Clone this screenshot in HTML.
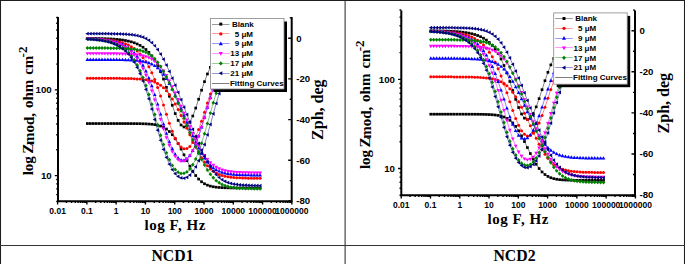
<!DOCTYPE html>
<html><head><meta charset="utf-8"><style>
html,body{margin:0;padding:0;background:#fff;}
body{width:685px;height:264px;overflow:hidden;position:relative;}
svg{position:absolute;left:0;top:0;}
.tl{font-family:"Liberation Sans",sans-serif;font-weight:bold;font-size:9.7px;}
.tr{font-family:"Liberation Sans",sans-serif;font-weight:bold;font-size:9.6px;}
.tx{font-family:"Liberation Sans",sans-serif;font-weight:bold;font-size:8.5px;}
.lg{font-family:"Liberation Sans",sans-serif;font-weight:bold;font-size:8px;}
.ti{font-family:"Liberation Serif",serif;font-weight:bold;font-size:15px;}
.tz{font-family:"Liberation Serif",serif;font-weight:bold;font-size:16px;}
.tf{font-family:"Liberation Serif",serif;font-weight:bold;font-size:15px;letter-spacing:0.55px;}
.nc{font-family:"Liberation Serif",serif;font-weight:bold;font-size:15.8px;}
</style></head><body>
<svg width="685" height="264" viewBox="0 0 685 264">
<defs><clipPath id="p1c"><rect x="58.0" y="14" width="233.7" height="187.2"/></clipPath><clipPath id="p2c"><rect x="401.3" y="7.4" width="233.7" height="187.79999999999998"/></clipPath></defs>
<rect width="685" height="264" fill="#fff"/>
<g clip-path="url(#p1c)"><polyline points="87.38,123.55 90.31,123.55 93.24,123.55 96.16,123.55 99.09,123.55 102.02,123.55 104.95,123.55 107.88,123.55 110.80,123.56 113.73,123.56 116.66,123.56 119.59,123.56 122.52,123.57 125.44,123.57 128.37,123.58 131.30,123.60 134.23,123.62 137.16,123.65 140.08,123.69 143.01,123.76 145.94,123.87 148.87,124.03 151.80,124.27 154.72,124.64 157.65,125.21 160.58,126.05 163.51,127.28 166.44,129.05 169.36,131.50 172.29,134.73 175.22,138.80 178.15,143.63 181.08,149.06 184.00,154.82 186.93,160.64 189.86,166.20 192.79,171.25 195.72,175.58 198.64,179.09 201.57,181.78 204.50,183.76 207.43,185.15 210.36,186.11 213.28,186.75 216.21,187.17 219.14,187.45 222.07,187.64 225.00,187.76 227.92,187.84 230.85,187.89 233.78,187.92 236.71,187.95 239.64,187.96 242.56,187.97 245.49,187.98 248.42,187.99 251.35,187.99 254.28,187.99 257.20,187.99 260.13,188.00" fill="none" stroke="#000000" stroke-width="0.5"/><rect x="86.03" y="122.20" width="2.70" height="2.70" fill="#000000"/><rect x="88.96" y="122.20" width="2.70" height="2.70" fill="#000000"/><rect x="91.89" y="122.20" width="2.70" height="2.70" fill="#000000"/><rect x="94.81" y="122.20" width="2.70" height="2.70" fill="#000000"/><rect x="97.74" y="122.20" width="2.70" height="2.70" fill="#000000"/><rect x="100.67" y="122.20" width="2.70" height="2.70" fill="#000000"/><rect x="103.60" y="122.20" width="2.70" height="2.70" fill="#000000"/><rect x="106.53" y="122.20" width="2.70" height="2.70" fill="#000000"/><rect x="109.45" y="122.21" width="2.70" height="2.70" fill="#000000"/><rect x="112.38" y="122.21" width="2.70" height="2.70" fill="#000000"/><rect x="115.31" y="122.21" width="2.70" height="2.70" fill="#000000"/><rect x="118.24" y="122.21" width="2.70" height="2.70" fill="#000000"/><rect x="121.17" y="122.22" width="2.70" height="2.70" fill="#000000"/><rect x="124.09" y="122.22" width="2.70" height="2.70" fill="#000000"/><rect x="127.02" y="122.23" width="2.70" height="2.70" fill="#000000"/><rect x="129.95" y="122.25" width="2.70" height="2.70" fill="#000000"/><rect x="132.88" y="122.27" width="2.70" height="2.70" fill="#000000"/><rect x="135.81" y="122.30" width="2.70" height="2.70" fill="#000000"/><rect x="138.73" y="122.34" width="2.70" height="2.70" fill="#000000"/><rect x="141.66" y="122.41" width="2.70" height="2.70" fill="#000000"/><rect x="144.59" y="122.52" width="2.70" height="2.70" fill="#000000"/><rect x="147.52" y="122.68" width="2.70" height="2.70" fill="#000000"/><rect x="150.45" y="122.92" width="2.70" height="2.70" fill="#000000"/><rect x="153.37" y="123.29" width="2.70" height="2.70" fill="#000000"/><rect x="156.30" y="123.86" width="2.70" height="2.70" fill="#000000"/><rect x="159.23" y="124.70" width="2.70" height="2.70" fill="#000000"/><rect x="162.16" y="125.93" width="2.70" height="2.70" fill="#000000"/><rect x="165.09" y="127.70" width="2.70" height="2.70" fill="#000000"/><rect x="168.01" y="130.15" width="2.70" height="2.70" fill="#000000"/><rect x="170.94" y="133.38" width="2.70" height="2.70" fill="#000000"/><rect x="173.87" y="137.45" width="2.70" height="2.70" fill="#000000"/><rect x="176.80" y="142.28" width="2.70" height="2.70" fill="#000000"/><rect x="179.73" y="147.71" width="2.70" height="2.70" fill="#000000"/><rect x="182.65" y="153.47" width="2.70" height="2.70" fill="#000000"/><rect x="185.58" y="159.29" width="2.70" height="2.70" fill="#000000"/><rect x="188.51" y="164.85" width="2.70" height="2.70" fill="#000000"/><rect x="191.44" y="169.90" width="2.70" height="2.70" fill="#000000"/><rect x="194.37" y="174.23" width="2.70" height="2.70" fill="#000000"/><rect x="197.29" y="177.74" width="2.70" height="2.70" fill="#000000"/><rect x="200.22" y="180.43" width="2.70" height="2.70" fill="#000000"/><rect x="203.15" y="182.41" width="2.70" height="2.70" fill="#000000"/><rect x="206.08" y="183.80" width="2.70" height="2.70" fill="#000000"/><rect x="209.01" y="184.76" width="2.70" height="2.70" fill="#000000"/><rect x="211.93" y="185.40" width="2.70" height="2.70" fill="#000000"/><rect x="214.86" y="185.82" width="2.70" height="2.70" fill="#000000"/><rect x="217.79" y="186.10" width="2.70" height="2.70" fill="#000000"/><rect x="220.72" y="186.29" width="2.70" height="2.70" fill="#000000"/><rect x="223.65" y="186.41" width="2.70" height="2.70" fill="#000000"/><rect x="226.57" y="186.49" width="2.70" height="2.70" fill="#000000"/><rect x="229.50" y="186.54" width="2.70" height="2.70" fill="#000000"/><rect x="232.43" y="186.57" width="2.70" height="2.70" fill="#000000"/><rect x="235.36" y="186.60" width="2.70" height="2.70" fill="#000000"/><rect x="238.29" y="186.61" width="2.70" height="2.70" fill="#000000"/><rect x="241.21" y="186.62" width="2.70" height="2.70" fill="#000000"/><rect x="244.14" y="186.63" width="2.70" height="2.70" fill="#000000"/><rect x="247.07" y="186.64" width="2.70" height="2.70" fill="#000000"/><rect x="250.00" y="186.64" width="2.70" height="2.70" fill="#000000"/><rect x="252.93" y="186.64" width="2.70" height="2.70" fill="#000000"/><rect x="255.85" y="186.64" width="2.70" height="2.70" fill="#000000"/><rect x="258.78" y="186.65" width="2.70" height="2.70" fill="#000000"/><polyline points="87.38,38.32 90.31,38.35 93.24,38.39 96.16,38.44 99.09,38.50 102.02,38.58 104.95,38.67 107.88,38.79 110.80,38.94 113.73,39.13 116.66,39.37 119.59,39.67 122.52,40.05 125.44,40.52 128.37,41.11 131.30,41.85 134.23,42.78 137.16,43.95 140.08,45.41 143.01,47.23 145.94,49.51 148.87,52.35 151.80,55.86 154.72,60.18 157.65,65.43 160.58,71.71 163.51,79.06 166.44,87.34 169.36,96.25 172.29,105.25 175.22,113.57 178.15,120.41 181.08,125.04 184.00,126.96 186.93,125.98 189.86,122.19 192.79,116.00 195.72,108.07 198.64,99.21 201.57,90.20 204.50,81.66 207.43,73.99 210.36,67.36 213.28,61.78 216.21,57.17 219.14,53.41 222.07,50.37 225.00,47.92 227.92,45.96 230.85,44.39 233.78,43.13 236.71,42.13 239.64,41.33 242.56,40.70 245.49,40.19 248.42,39.78 251.35,39.46 254.28,39.20 257.20,39.00 260.13,38.84" fill="none" stroke="#000000" stroke-width="0.5"/><rect x="86.03" y="36.97" width="2.70" height="2.70" fill="#000000"/><rect x="88.96" y="37.00" width="2.70" height="2.70" fill="#000000"/><rect x="91.89" y="37.04" width="2.70" height="2.70" fill="#000000"/><rect x="94.81" y="37.09" width="2.70" height="2.70" fill="#000000"/><rect x="97.74" y="37.15" width="2.70" height="2.70" fill="#000000"/><rect x="100.67" y="37.23" width="2.70" height="2.70" fill="#000000"/><rect x="103.60" y="37.32" width="2.70" height="2.70" fill="#000000"/><rect x="106.53" y="37.44" width="2.70" height="2.70" fill="#000000"/><rect x="109.45" y="37.59" width="2.70" height="2.70" fill="#000000"/><rect x="112.38" y="37.78" width="2.70" height="2.70" fill="#000000"/><rect x="115.31" y="38.02" width="2.70" height="2.70" fill="#000000"/><rect x="118.24" y="38.32" width="2.70" height="2.70" fill="#000000"/><rect x="121.17" y="38.70" width="2.70" height="2.70" fill="#000000"/><rect x="124.09" y="39.17" width="2.70" height="2.70" fill="#000000"/><rect x="127.02" y="39.76" width="2.70" height="2.70" fill="#000000"/><rect x="129.95" y="40.50" width="2.70" height="2.70" fill="#000000"/><rect x="132.88" y="41.43" width="2.70" height="2.70" fill="#000000"/><rect x="135.81" y="42.60" width="2.70" height="2.70" fill="#000000"/><rect x="138.73" y="44.06" width="2.70" height="2.70" fill="#000000"/><rect x="141.66" y="45.88" width="2.70" height="2.70" fill="#000000"/><rect x="144.59" y="48.16" width="2.70" height="2.70" fill="#000000"/><rect x="147.52" y="51.00" width="2.70" height="2.70" fill="#000000"/><rect x="150.45" y="54.51" width="2.70" height="2.70" fill="#000000"/><rect x="153.37" y="58.83" width="2.70" height="2.70" fill="#000000"/><rect x="156.30" y="64.08" width="2.70" height="2.70" fill="#000000"/><rect x="159.23" y="70.36" width="2.70" height="2.70" fill="#000000"/><rect x="162.16" y="77.71" width="2.70" height="2.70" fill="#000000"/><rect x="165.09" y="85.99" width="2.70" height="2.70" fill="#000000"/><rect x="168.01" y="94.90" width="2.70" height="2.70" fill="#000000"/><rect x="170.94" y="103.90" width="2.70" height="2.70" fill="#000000"/><rect x="173.87" y="112.22" width="2.70" height="2.70" fill="#000000"/><rect x="176.80" y="119.06" width="2.70" height="2.70" fill="#000000"/><rect x="179.73" y="123.69" width="2.70" height="2.70" fill="#000000"/><rect x="182.65" y="125.61" width="2.70" height="2.70" fill="#000000"/><rect x="185.58" y="124.63" width="2.70" height="2.70" fill="#000000"/><rect x="188.51" y="120.84" width="2.70" height="2.70" fill="#000000"/><rect x="191.44" y="114.65" width="2.70" height="2.70" fill="#000000"/><rect x="194.37" y="106.72" width="2.70" height="2.70" fill="#000000"/><rect x="197.29" y="97.86" width="2.70" height="2.70" fill="#000000"/><rect x="200.22" y="88.85" width="2.70" height="2.70" fill="#000000"/><rect x="203.15" y="80.31" width="2.70" height="2.70" fill="#000000"/><rect x="206.08" y="72.64" width="2.70" height="2.70" fill="#000000"/><rect x="209.01" y="66.01" width="2.70" height="2.70" fill="#000000"/><rect x="211.93" y="60.43" width="2.70" height="2.70" fill="#000000"/><rect x="214.86" y="55.82" width="2.70" height="2.70" fill="#000000"/><rect x="217.79" y="52.06" width="2.70" height="2.70" fill="#000000"/><rect x="220.72" y="49.02" width="2.70" height="2.70" fill="#000000"/><rect x="223.65" y="46.57" width="2.70" height="2.70" fill="#000000"/><rect x="226.57" y="44.61" width="2.70" height="2.70" fill="#000000"/><rect x="229.50" y="43.04" width="2.70" height="2.70" fill="#000000"/><rect x="232.43" y="41.78" width="2.70" height="2.70" fill="#000000"/><rect x="235.36" y="40.78" width="2.70" height="2.70" fill="#000000"/><rect x="238.29" y="39.98" width="2.70" height="2.70" fill="#000000"/><rect x="241.21" y="39.35" width="2.70" height="2.70" fill="#000000"/><rect x="244.14" y="38.84" width="2.70" height="2.70" fill="#000000"/><rect x="247.07" y="38.43" width="2.70" height="2.70" fill="#000000"/><rect x="250.00" y="38.11" width="2.70" height="2.70" fill="#000000"/><rect x="252.93" y="37.85" width="2.70" height="2.70" fill="#000000"/><rect x="255.85" y="37.65" width="2.70" height="2.70" fill="#000000"/><rect x="258.78" y="37.49" width="2.70" height="2.70" fill="#000000"/><polyline points="87.38,78.21 90.31,78.22 93.24,78.22 96.16,78.23 99.09,78.23 102.02,78.24 104.95,78.25 107.88,78.26 110.80,78.28 113.73,78.30 116.66,78.32 119.59,78.35 122.52,78.40 125.44,78.45 128.37,78.52 131.30,78.61 134.23,78.73 137.16,78.89 140.08,79.10 143.01,79.39 145.94,79.79 148.87,80.34 151.80,81.09 154.72,82.11 157.65,83.49 160.58,85.34 163.51,87.74 166.44,90.79 169.36,94.53 172.29,98.96 175.22,104.02 178.15,109.62 181.08,115.62 184.00,121.90 186.93,128.32 189.86,134.73 192.79,141.01 195.72,147.01 198.64,152.61 201.57,157.67 204.50,162.09 207.43,165.83 210.36,168.88 213.28,171.28 216.21,173.12 219.14,174.50 222.07,175.52 225.00,176.26 227.92,176.81 230.85,177.21 233.78,177.50 236.71,177.71 239.64,177.87 242.56,177.99 245.49,178.08 248.42,178.15 251.35,178.21 254.28,178.25 257.20,178.28 260.13,178.30" fill="none" stroke="#ff0000" stroke-width="0.5"/><circle cx="87.38" cy="78.21" r="1.50" fill="#ff0000"/><circle cx="90.31" cy="78.22" r="1.50" fill="#ff0000"/><circle cx="93.24" cy="78.22" r="1.50" fill="#ff0000"/><circle cx="96.16" cy="78.23" r="1.50" fill="#ff0000"/><circle cx="99.09" cy="78.23" r="1.50" fill="#ff0000"/><circle cx="102.02" cy="78.24" r="1.50" fill="#ff0000"/><circle cx="104.95" cy="78.25" r="1.50" fill="#ff0000"/><circle cx="107.88" cy="78.26" r="1.50" fill="#ff0000"/><circle cx="110.80" cy="78.28" r="1.50" fill="#ff0000"/><circle cx="113.73" cy="78.30" r="1.50" fill="#ff0000"/><circle cx="116.66" cy="78.32" r="1.50" fill="#ff0000"/><circle cx="119.59" cy="78.35" r="1.50" fill="#ff0000"/><circle cx="122.52" cy="78.40" r="1.50" fill="#ff0000"/><circle cx="125.44" cy="78.45" r="1.50" fill="#ff0000"/><circle cx="128.37" cy="78.52" r="1.50" fill="#ff0000"/><circle cx="131.30" cy="78.61" r="1.50" fill="#ff0000"/><circle cx="134.23" cy="78.73" r="1.50" fill="#ff0000"/><circle cx="137.16" cy="78.89" r="1.50" fill="#ff0000"/><circle cx="140.08" cy="79.10" r="1.50" fill="#ff0000"/><circle cx="143.01" cy="79.39" r="1.50" fill="#ff0000"/><circle cx="145.94" cy="79.79" r="1.50" fill="#ff0000"/><circle cx="148.87" cy="80.34" r="1.50" fill="#ff0000"/><circle cx="151.80" cy="81.09" r="1.50" fill="#ff0000"/><circle cx="154.72" cy="82.11" r="1.50" fill="#ff0000"/><circle cx="157.65" cy="83.49" r="1.50" fill="#ff0000"/><circle cx="160.58" cy="85.34" r="1.50" fill="#ff0000"/><circle cx="163.51" cy="87.74" r="1.50" fill="#ff0000"/><circle cx="166.44" cy="90.79" r="1.50" fill="#ff0000"/><circle cx="169.36" cy="94.53" r="1.50" fill="#ff0000"/><circle cx="172.29" cy="98.96" r="1.50" fill="#ff0000"/><circle cx="175.22" cy="104.02" r="1.50" fill="#ff0000"/><circle cx="178.15" cy="109.62" r="1.50" fill="#ff0000"/><circle cx="181.08" cy="115.62" r="1.50" fill="#ff0000"/><circle cx="184.00" cy="121.90" r="1.50" fill="#ff0000"/><circle cx="186.93" cy="128.32" r="1.50" fill="#ff0000"/><circle cx="189.86" cy="134.73" r="1.50" fill="#ff0000"/><circle cx="192.79" cy="141.01" r="1.50" fill="#ff0000"/><circle cx="195.72" cy="147.01" r="1.50" fill="#ff0000"/><circle cx="198.64" cy="152.61" r="1.50" fill="#ff0000"/><circle cx="201.57" cy="157.67" r="1.50" fill="#ff0000"/><circle cx="204.50" cy="162.09" r="1.50" fill="#ff0000"/><circle cx="207.43" cy="165.83" r="1.50" fill="#ff0000"/><circle cx="210.36" cy="168.88" r="1.50" fill="#ff0000"/><circle cx="213.28" cy="171.28" r="1.50" fill="#ff0000"/><circle cx="216.21" cy="173.12" r="1.50" fill="#ff0000"/><circle cx="219.14" cy="174.50" r="1.50" fill="#ff0000"/><circle cx="222.07" cy="175.52" r="1.50" fill="#ff0000"/><circle cx="225.00" cy="176.26" r="1.50" fill="#ff0000"/><circle cx="227.92" cy="176.81" r="1.50" fill="#ff0000"/><circle cx="230.85" cy="177.21" r="1.50" fill="#ff0000"/><circle cx="233.78" cy="177.50" r="1.50" fill="#ff0000"/><circle cx="236.71" cy="177.71" r="1.50" fill="#ff0000"/><circle cx="239.64" cy="177.87" r="1.50" fill="#ff0000"/><circle cx="242.56" cy="177.99" r="1.50" fill="#ff0000"/><circle cx="245.49" cy="178.08" r="1.50" fill="#ff0000"/><circle cx="248.42" cy="178.15" r="1.50" fill="#ff0000"/><circle cx="251.35" cy="178.21" r="1.50" fill="#ff0000"/><circle cx="254.28" cy="178.25" r="1.50" fill="#ff0000"/><circle cx="257.20" cy="178.28" r="1.50" fill="#ff0000"/><circle cx="260.13" cy="178.30" r="1.50" fill="#ff0000"/><polyline points="87.38,38.56 90.31,38.65 93.24,38.75 96.16,38.88 99.09,39.04 102.02,39.24 104.95,39.49 107.88,39.79 110.80,40.16 113.73,40.62 116.66,41.18 119.59,41.88 122.52,42.73 125.44,43.79 128.37,45.08 131.30,46.67 134.23,48.62 137.16,51.01 140.08,53.91 143.01,57.43 145.94,61.67 148.87,66.73 151.80,72.68 154.72,79.59 157.65,87.40 160.58,95.99 163.51,105.09 166.44,114.32 169.36,123.22 172.29,131.31 175.22,138.18 178.15,143.50 181.08,147.06 184.00,148.76 186.93,148.53 189.86,146.39 192.79,142.40 195.72,136.69 198.64,129.50 201.57,121.18 204.50,112.16 207.43,102.92 210.36,93.91 213.28,85.48 216.21,77.88 219.14,71.20 222.07,65.46 225.00,60.60 227.92,56.54 230.85,53.18 233.78,50.40 236.71,48.13 239.64,46.27 242.56,44.75 245.49,43.52 248.42,42.51 251.35,41.70 254.28,41.04 257.20,40.50 260.13,40.06" fill="none" stroke="#ff0000" stroke-width="0.5"/><circle cx="87.38" cy="38.56" r="1.50" fill="#ff0000"/><circle cx="90.31" cy="38.65" r="1.50" fill="#ff0000"/><circle cx="93.24" cy="38.75" r="1.50" fill="#ff0000"/><circle cx="96.16" cy="38.88" r="1.50" fill="#ff0000"/><circle cx="99.09" cy="39.04" r="1.50" fill="#ff0000"/><circle cx="102.02" cy="39.24" r="1.50" fill="#ff0000"/><circle cx="104.95" cy="39.49" r="1.50" fill="#ff0000"/><circle cx="107.88" cy="39.79" r="1.50" fill="#ff0000"/><circle cx="110.80" cy="40.16" r="1.50" fill="#ff0000"/><circle cx="113.73" cy="40.62" r="1.50" fill="#ff0000"/><circle cx="116.66" cy="41.18" r="1.50" fill="#ff0000"/><circle cx="119.59" cy="41.88" r="1.50" fill="#ff0000"/><circle cx="122.52" cy="42.73" r="1.50" fill="#ff0000"/><circle cx="125.44" cy="43.79" r="1.50" fill="#ff0000"/><circle cx="128.37" cy="45.08" r="1.50" fill="#ff0000"/><circle cx="131.30" cy="46.67" r="1.50" fill="#ff0000"/><circle cx="134.23" cy="48.62" r="1.50" fill="#ff0000"/><circle cx="137.16" cy="51.01" r="1.50" fill="#ff0000"/><circle cx="140.08" cy="53.91" r="1.50" fill="#ff0000"/><circle cx="143.01" cy="57.43" r="1.50" fill="#ff0000"/><circle cx="145.94" cy="61.67" r="1.50" fill="#ff0000"/><circle cx="148.87" cy="66.73" r="1.50" fill="#ff0000"/><circle cx="151.80" cy="72.68" r="1.50" fill="#ff0000"/><circle cx="154.72" cy="79.59" r="1.50" fill="#ff0000"/><circle cx="157.65" cy="87.40" r="1.50" fill="#ff0000"/><circle cx="160.58" cy="95.99" r="1.50" fill="#ff0000"/><circle cx="163.51" cy="105.09" r="1.50" fill="#ff0000"/><circle cx="166.44" cy="114.32" r="1.50" fill="#ff0000"/><circle cx="169.36" cy="123.22" r="1.50" fill="#ff0000"/><circle cx="172.29" cy="131.31" r="1.50" fill="#ff0000"/><circle cx="175.22" cy="138.18" r="1.50" fill="#ff0000"/><circle cx="178.15" cy="143.50" r="1.50" fill="#ff0000"/><circle cx="181.08" cy="147.06" r="1.50" fill="#ff0000"/><circle cx="184.00" cy="148.76" r="1.50" fill="#ff0000"/><circle cx="186.93" cy="148.53" r="1.50" fill="#ff0000"/><circle cx="189.86" cy="146.39" r="1.50" fill="#ff0000"/><circle cx="192.79" cy="142.40" r="1.50" fill="#ff0000"/><circle cx="195.72" cy="136.69" r="1.50" fill="#ff0000"/><circle cx="198.64" cy="129.50" r="1.50" fill="#ff0000"/><circle cx="201.57" cy="121.18" r="1.50" fill="#ff0000"/><circle cx="204.50" cy="112.16" r="1.50" fill="#ff0000"/><circle cx="207.43" cy="102.92" r="1.50" fill="#ff0000"/><circle cx="210.36" cy="93.91" r="1.50" fill="#ff0000"/><circle cx="213.28" cy="85.48" r="1.50" fill="#ff0000"/><circle cx="216.21" cy="77.88" r="1.50" fill="#ff0000"/><circle cx="219.14" cy="71.20" r="1.50" fill="#ff0000"/><circle cx="222.07" cy="65.46" r="1.50" fill="#ff0000"/><circle cx="225.00" cy="60.60" r="1.50" fill="#ff0000"/><circle cx="227.92" cy="56.54" r="1.50" fill="#ff0000"/><circle cx="230.85" cy="53.18" r="1.50" fill="#ff0000"/><circle cx="233.78" cy="50.40" r="1.50" fill="#ff0000"/><circle cx="236.71" cy="48.13" r="1.50" fill="#ff0000"/><circle cx="239.64" cy="46.27" r="1.50" fill="#ff0000"/><circle cx="242.56" cy="44.75" r="1.50" fill="#ff0000"/><circle cx="245.49" cy="43.52" r="1.50" fill="#ff0000"/><circle cx="248.42" cy="42.51" r="1.50" fill="#ff0000"/><circle cx="251.35" cy="41.70" r="1.50" fill="#ff0000"/><circle cx="254.28" cy="41.04" r="1.50" fill="#ff0000"/><circle cx="257.20" cy="40.50" r="1.50" fill="#ff0000"/><circle cx="260.13" cy="40.06" r="1.50" fill="#ff0000"/><polyline points="87.38,59.52 90.31,59.52 93.24,59.53 96.16,59.53 99.09,59.54 102.02,59.55 104.95,59.56 107.88,59.58 110.80,59.60 113.73,59.63 116.66,59.66 119.59,59.70 122.52,59.76 125.44,59.83 128.37,59.93 131.30,60.07 134.23,60.25 137.16,60.50 140.08,60.84 143.01,61.31 145.94,61.95 148.87,62.85 151.80,64.08 154.72,65.74 157.65,67.94 160.58,70.79 163.51,74.35 166.44,78.64 169.36,83.63 172.29,89.24 175.22,95.36 178.15,101.85 181.08,108.59 184.00,115.48 186.93,122.39 189.86,129.22 192.79,135.87 195.72,142.20 198.64,148.10 201.57,153.44 204.50,158.12 207.43,162.08 210.36,165.30 213.28,167.84 216.21,169.78 219.14,171.23 222.07,172.30 225.00,173.07 227.92,173.63 230.85,174.03 233.78,174.33 236.71,174.54 239.64,174.70 242.56,174.81 245.49,174.90 248.42,174.97 251.35,175.02 254.28,175.06 257.20,175.09 260.13,175.11" fill="none" stroke="#0000ff" stroke-width="0.5"/><path d="M87.38,57.48L89.25,60.88L85.51,60.88Z" fill="#0000ff"/><path d="M90.31,57.48L92.18,60.88L88.44,60.88Z" fill="#0000ff"/><path d="M93.24,57.49L95.11,60.89L91.37,60.89Z" fill="#0000ff"/><path d="M96.16,57.49L98.03,60.89L94.29,60.89Z" fill="#0000ff"/><path d="M99.09,57.50L100.96,60.90L97.22,60.90Z" fill="#0000ff"/><path d="M102.02,57.51L103.89,60.91L100.15,60.91Z" fill="#0000ff"/><path d="M104.95,57.52L106.82,60.92L103.08,60.92Z" fill="#0000ff"/><path d="M107.88,57.54L109.75,60.94L106.01,60.94Z" fill="#0000ff"/><path d="M110.80,57.56L112.67,60.96L108.93,60.96Z" fill="#0000ff"/><path d="M113.73,57.59L115.60,60.99L111.86,60.99Z" fill="#0000ff"/><path d="M116.66,57.62L118.53,61.02L114.79,61.02Z" fill="#0000ff"/><path d="M119.59,57.66L121.46,61.06L117.72,61.06Z" fill="#0000ff"/><path d="M122.52,57.72L124.39,61.12L120.65,61.12Z" fill="#0000ff"/><path d="M125.44,57.79L127.31,61.19L123.57,61.19Z" fill="#0000ff"/><path d="M128.37,57.89L130.24,61.29L126.50,61.29Z" fill="#0000ff"/><path d="M131.30,58.03L133.17,61.43L129.43,61.43Z" fill="#0000ff"/><path d="M134.23,58.21L136.10,61.61L132.36,61.61Z" fill="#0000ff"/><path d="M137.16,58.46L139.03,61.86L135.29,61.86Z" fill="#0000ff"/><path d="M140.08,58.80L141.95,62.20L138.21,62.20Z" fill="#0000ff"/><path d="M143.01,59.27L144.88,62.67L141.14,62.67Z" fill="#0000ff"/><path d="M145.94,59.91L147.81,63.31L144.07,63.31Z" fill="#0000ff"/><path d="M148.87,60.81L150.74,64.21L147.00,64.21Z" fill="#0000ff"/><path d="M151.80,62.04L153.67,65.44L149.93,65.44Z" fill="#0000ff"/><path d="M154.72,63.70L156.59,67.10L152.85,67.10Z" fill="#0000ff"/><path d="M157.65,65.90L159.52,69.30L155.78,69.30Z" fill="#0000ff"/><path d="M160.58,68.75L162.45,72.15L158.71,72.15Z" fill="#0000ff"/><path d="M163.51,72.31L165.38,75.71L161.64,75.71Z" fill="#0000ff"/><path d="M166.44,76.60L168.31,80.00L164.57,80.00Z" fill="#0000ff"/><path d="M169.36,81.59L171.23,84.99L167.49,84.99Z" fill="#0000ff"/><path d="M172.29,87.20L174.16,90.60L170.42,90.60Z" fill="#0000ff"/><path d="M175.22,93.32L177.09,96.72L173.35,96.72Z" fill="#0000ff"/><path d="M178.15,99.81L180.02,103.21L176.28,103.21Z" fill="#0000ff"/><path d="M181.08,106.55L182.95,109.95L179.21,109.95Z" fill="#0000ff"/><path d="M184.00,113.44L185.87,116.84L182.13,116.84Z" fill="#0000ff"/><path d="M186.93,120.35L188.80,123.75L185.06,123.75Z" fill="#0000ff"/><path d="M189.86,127.18L191.73,130.58L187.99,130.58Z" fill="#0000ff"/><path d="M192.79,133.83L194.66,137.23L190.92,137.23Z" fill="#0000ff"/><path d="M195.72,140.16L197.59,143.56L193.85,143.56Z" fill="#0000ff"/><path d="M198.64,146.06L200.51,149.46L196.77,149.46Z" fill="#0000ff"/><path d="M201.57,151.40L203.44,154.80L199.70,154.80Z" fill="#0000ff"/><path d="M204.50,156.08L206.37,159.48L202.63,159.48Z" fill="#0000ff"/><path d="M207.43,160.04L209.30,163.44L205.56,163.44Z" fill="#0000ff"/><path d="M210.36,163.26L212.23,166.66L208.49,166.66Z" fill="#0000ff"/><path d="M213.28,165.80L215.15,169.20L211.41,169.20Z" fill="#0000ff"/><path d="M216.21,167.74L218.08,171.14L214.34,171.14Z" fill="#0000ff"/><path d="M219.14,169.19L221.01,172.59L217.27,172.59Z" fill="#0000ff"/><path d="M222.07,170.26L223.94,173.66L220.20,173.66Z" fill="#0000ff"/><path d="M225.00,171.03L226.87,174.43L223.13,174.43Z" fill="#0000ff"/><path d="M227.92,171.59L229.79,174.99L226.05,174.99Z" fill="#0000ff"/><path d="M230.85,171.99L232.72,175.39L228.98,175.39Z" fill="#0000ff"/><path d="M233.78,172.29L235.65,175.69L231.91,175.69Z" fill="#0000ff"/><path d="M236.71,172.50L238.58,175.90L234.84,175.90Z" fill="#0000ff"/><path d="M239.64,172.66L241.51,176.06L237.77,176.06Z" fill="#0000ff"/><path d="M242.56,172.77L244.43,176.17L240.69,176.17Z" fill="#0000ff"/><path d="M245.49,172.86L247.36,176.26L243.62,176.26Z" fill="#0000ff"/><path d="M248.42,172.93L250.29,176.33L246.55,176.33Z" fill="#0000ff"/><path d="M251.35,172.98L253.22,176.38L249.48,176.38Z" fill="#0000ff"/><path d="M254.28,173.02L256.15,176.42L252.41,176.42Z" fill="#0000ff"/><path d="M257.20,173.05L259.07,176.45L255.33,176.45Z" fill="#0000ff"/><path d="M260.13,173.07L262.00,176.47L258.26,176.47Z" fill="#0000ff"/><polyline points="87.38,38.70 90.31,38.82 93.24,38.96 96.16,39.14 99.09,39.37 102.02,39.65 104.95,39.99 107.88,40.41 110.80,40.93 113.73,41.58 116.66,42.38 119.59,43.36 122.52,44.58 125.44,46.07 128.37,47.91 131.30,50.17 134.23,52.94 137.16,56.31 140.08,60.39 143.01,65.30 145.94,71.15 148.87,78.00 151.80,85.88 154.72,94.70 157.65,104.25 160.58,114.19 163.51,124.08 166.44,133.42 169.36,141.78 172.29,148.82 175.22,154.29 178.15,158.08 181.08,160.12 184.00,160.40 186.93,158.90 189.86,155.66 192.79,150.70 195.72,144.13 198.64,136.15 201.57,127.07 204.50,117.30 207.43,107.33 210.36,97.61 213.28,88.54 216.21,80.35 219.14,73.18 222.07,67.02 225.00,61.83 227.92,57.50 230.85,53.92 233.78,50.98 236.71,48.57 239.64,46.61 242.56,45.01 245.49,43.72 248.42,42.66 251.35,41.81 254.28,41.12 257.20,40.56 260.13,40.11" fill="none" stroke="#0000ff" stroke-width="0.5"/><path d="M87.38,36.66L89.25,40.06L85.51,40.06Z" fill="#0000ff"/><path d="M90.31,36.78L92.18,40.18L88.44,40.18Z" fill="#0000ff"/><path d="M93.24,36.92L95.11,40.32L91.37,40.32Z" fill="#0000ff"/><path d="M96.16,37.10L98.03,40.50L94.29,40.50Z" fill="#0000ff"/><path d="M99.09,37.33L100.96,40.73L97.22,40.73Z" fill="#0000ff"/><path d="M102.02,37.61L103.89,41.01L100.15,41.01Z" fill="#0000ff"/><path d="M104.95,37.95L106.82,41.35L103.08,41.35Z" fill="#0000ff"/><path d="M107.88,38.37L109.75,41.77L106.01,41.77Z" fill="#0000ff"/><path d="M110.80,38.89L112.67,42.29L108.93,42.29Z" fill="#0000ff"/><path d="M113.73,39.54L115.60,42.94L111.86,42.94Z" fill="#0000ff"/><path d="M116.66,40.34L118.53,43.74L114.79,43.74Z" fill="#0000ff"/><path d="M119.59,41.32L121.46,44.72L117.72,44.72Z" fill="#0000ff"/><path d="M122.52,42.54L124.39,45.94L120.65,45.94Z" fill="#0000ff"/><path d="M125.44,44.03L127.31,47.43L123.57,47.43Z" fill="#0000ff"/><path d="M128.37,45.87L130.24,49.27L126.50,49.27Z" fill="#0000ff"/><path d="M131.30,48.13L133.17,51.53L129.43,51.53Z" fill="#0000ff"/><path d="M134.23,50.90L136.10,54.30L132.36,54.30Z" fill="#0000ff"/><path d="M137.16,54.27L139.03,57.67L135.29,57.67Z" fill="#0000ff"/><path d="M140.08,58.35L141.95,61.75L138.21,61.75Z" fill="#0000ff"/><path d="M143.01,63.26L144.88,66.66L141.14,66.66Z" fill="#0000ff"/><path d="M145.94,69.11L147.81,72.51L144.07,72.51Z" fill="#0000ff"/><path d="M148.87,75.96L150.74,79.36L147.00,79.36Z" fill="#0000ff"/><path d="M151.80,83.84L153.67,87.24L149.93,87.24Z" fill="#0000ff"/><path d="M154.72,92.66L156.59,96.06L152.85,96.06Z" fill="#0000ff"/><path d="M157.65,102.21L159.52,105.61L155.78,105.61Z" fill="#0000ff"/><path d="M160.58,112.15L162.45,115.55L158.71,115.55Z" fill="#0000ff"/><path d="M163.51,122.04L165.38,125.44L161.64,125.44Z" fill="#0000ff"/><path d="M166.44,131.38L168.31,134.78L164.57,134.78Z" fill="#0000ff"/><path d="M169.36,139.74L171.23,143.14L167.49,143.14Z" fill="#0000ff"/><path d="M172.29,146.78L174.16,150.18L170.42,150.18Z" fill="#0000ff"/><path d="M175.22,152.25L177.09,155.65L173.35,155.65Z" fill="#0000ff"/><path d="M178.15,156.04L180.02,159.44L176.28,159.44Z" fill="#0000ff"/><path d="M181.08,158.08L182.95,161.48L179.21,161.48Z" fill="#0000ff"/><path d="M184.00,158.36L185.87,161.76L182.13,161.76Z" fill="#0000ff"/><path d="M186.93,156.86L188.80,160.26L185.06,160.26Z" fill="#0000ff"/><path d="M189.86,153.62L191.73,157.02L187.99,157.02Z" fill="#0000ff"/><path d="M192.79,148.66L194.66,152.06L190.92,152.06Z" fill="#0000ff"/><path d="M195.72,142.09L197.59,145.49L193.85,145.49Z" fill="#0000ff"/><path d="M198.64,134.11L200.51,137.51L196.77,137.51Z" fill="#0000ff"/><path d="M201.57,125.03L203.44,128.43L199.70,128.43Z" fill="#0000ff"/><path d="M204.50,115.26L206.37,118.66L202.63,118.66Z" fill="#0000ff"/><path d="M207.43,105.29L209.30,108.69L205.56,108.69Z" fill="#0000ff"/><path d="M210.36,95.57L212.23,98.97L208.49,98.97Z" fill="#0000ff"/><path d="M213.28,86.50L215.15,89.90L211.41,89.90Z" fill="#0000ff"/><path d="M216.21,78.31L218.08,81.71L214.34,81.71Z" fill="#0000ff"/><path d="M219.14,71.14L221.01,74.54L217.27,74.54Z" fill="#0000ff"/><path d="M222.07,64.98L223.94,68.38L220.20,68.38Z" fill="#0000ff"/><path d="M225.00,59.79L226.87,63.19L223.13,63.19Z" fill="#0000ff"/><path d="M227.92,55.46L229.79,58.86L226.05,58.86Z" fill="#0000ff"/><path d="M230.85,51.88L232.72,55.28L228.98,55.28Z" fill="#0000ff"/><path d="M233.78,48.94L235.65,52.34L231.91,52.34Z" fill="#0000ff"/><path d="M236.71,46.53L238.58,49.93L234.84,49.93Z" fill="#0000ff"/><path d="M239.64,44.57L241.51,47.97L237.77,47.97Z" fill="#0000ff"/><path d="M242.56,42.97L244.43,46.37L240.69,46.37Z" fill="#0000ff"/><path d="M245.49,41.68L247.36,45.08L243.62,45.08Z" fill="#0000ff"/><path d="M248.42,40.62L250.29,44.02L246.55,44.02Z" fill="#0000ff"/><path d="M251.35,39.77L253.22,43.17L249.48,43.17Z" fill="#0000ff"/><path d="M254.28,39.08L256.15,42.48L252.41,42.48Z" fill="#0000ff"/><path d="M257.20,38.52L259.07,41.92L255.33,41.92Z" fill="#0000ff"/><path d="M260.13,38.07L262.00,41.47L258.26,41.47Z" fill="#0000ff"/><polyline points="87.38,53.52 90.31,53.53 93.24,53.53 96.16,53.54 99.09,53.55 102.02,53.57 104.95,53.58 107.88,53.60 110.80,53.63 113.73,53.66 116.66,53.71 119.59,53.76 122.52,53.84 125.44,53.94 128.37,54.06 131.30,54.24 134.23,54.47 137.16,54.78 140.08,55.21 143.01,55.80 145.94,56.60 148.87,57.70 151.80,59.18 154.72,61.14 157.65,63.70 160.58,66.91 163.51,70.84 166.44,75.48 169.36,80.75 172.29,86.57 175.22,92.83 178.15,99.40 181.08,106.17 184.00,113.05 186.93,119.92 189.86,126.71 192.79,133.29 195.72,139.57 198.64,145.42 201.57,150.73 204.50,155.40 207.43,159.37 210.36,162.63 213.28,165.22 216.21,167.22 219.14,168.73 222.07,169.84 225.00,170.66 227.92,171.26 230.85,171.70 233.78,172.02 236.71,172.25 239.64,172.43 242.56,172.56 245.49,172.66 248.42,172.73 251.35,172.79 254.28,172.83 257.20,172.87 260.13,172.89" fill="none" stroke="#ff00ff" stroke-width="0.5"/><path d="M87.38,55.56L89.25,52.16L85.51,52.16Z" fill="#ff00ff"/><path d="M90.31,55.57L92.18,52.17L88.44,52.17Z" fill="#ff00ff"/><path d="M93.24,55.57L95.11,52.17L91.37,52.17Z" fill="#ff00ff"/><path d="M96.16,55.58L98.03,52.18L94.29,52.18Z" fill="#ff00ff"/><path d="M99.09,55.59L100.96,52.19L97.22,52.19Z" fill="#ff00ff"/><path d="M102.02,55.61L103.89,52.21L100.15,52.21Z" fill="#ff00ff"/><path d="M104.95,55.62L106.82,52.22L103.08,52.22Z" fill="#ff00ff"/><path d="M107.88,55.64L109.75,52.24L106.01,52.24Z" fill="#ff00ff"/><path d="M110.80,55.67L112.67,52.27L108.93,52.27Z" fill="#ff00ff"/><path d="M113.73,55.70L115.60,52.30L111.86,52.30Z" fill="#ff00ff"/><path d="M116.66,55.75L118.53,52.35L114.79,52.35Z" fill="#ff00ff"/><path d="M119.59,55.80L121.46,52.40L117.72,52.40Z" fill="#ff00ff"/><path d="M122.52,55.88L124.39,52.48L120.65,52.48Z" fill="#ff00ff"/><path d="M125.44,55.98L127.31,52.58L123.57,52.58Z" fill="#ff00ff"/><path d="M128.37,56.10L130.24,52.70L126.50,52.70Z" fill="#ff00ff"/><path d="M131.30,56.28L133.17,52.88L129.43,52.88Z" fill="#ff00ff"/><path d="M134.23,56.51L136.10,53.11L132.36,53.11Z" fill="#ff00ff"/><path d="M137.16,56.82L139.03,53.42L135.29,53.42Z" fill="#ff00ff"/><path d="M140.08,57.25L141.95,53.85L138.21,53.85Z" fill="#ff00ff"/><path d="M143.01,57.84L144.88,54.44L141.14,54.44Z" fill="#ff00ff"/><path d="M145.94,58.64L147.81,55.24L144.07,55.24Z" fill="#ff00ff"/><path d="M148.87,59.74L150.74,56.34L147.00,56.34Z" fill="#ff00ff"/><path d="M151.80,61.22L153.67,57.82L149.93,57.82Z" fill="#ff00ff"/><path d="M154.72,63.18L156.59,59.78L152.85,59.78Z" fill="#ff00ff"/><path d="M157.65,65.74L159.52,62.34L155.78,62.34Z" fill="#ff00ff"/><path d="M160.58,68.95L162.45,65.55L158.71,65.55Z" fill="#ff00ff"/><path d="M163.51,72.88L165.38,69.48L161.64,69.48Z" fill="#ff00ff"/><path d="M166.44,77.52L168.31,74.12L164.57,74.12Z" fill="#ff00ff"/><path d="M169.36,82.79L171.23,79.39L167.49,79.39Z" fill="#ff00ff"/><path d="M172.29,88.61L174.16,85.21L170.42,85.21Z" fill="#ff00ff"/><path d="M175.22,94.87L177.09,91.47L173.35,91.47Z" fill="#ff00ff"/><path d="M178.15,101.44L180.02,98.04L176.28,98.04Z" fill="#ff00ff"/><path d="M181.08,108.21L182.95,104.81L179.21,104.81Z" fill="#ff00ff"/><path d="M184.00,115.09L185.87,111.69L182.13,111.69Z" fill="#ff00ff"/><path d="M186.93,121.96L188.80,118.56L185.06,118.56Z" fill="#ff00ff"/><path d="M189.86,128.75L191.73,125.35L187.99,125.35Z" fill="#ff00ff"/><path d="M192.79,135.33L194.66,131.93L190.92,131.93Z" fill="#ff00ff"/><path d="M195.72,141.61L197.59,138.21L193.85,138.21Z" fill="#ff00ff"/><path d="M198.64,147.46L200.51,144.06L196.77,144.06Z" fill="#ff00ff"/><path d="M201.57,152.77L203.44,149.37L199.70,149.37Z" fill="#ff00ff"/><path d="M204.50,157.44L206.37,154.04L202.63,154.04Z" fill="#ff00ff"/><path d="M207.43,161.41L209.30,158.01L205.56,158.01Z" fill="#ff00ff"/><path d="M210.36,164.67L212.23,161.27L208.49,161.27Z" fill="#ff00ff"/><path d="M213.28,167.26L215.15,163.86L211.41,163.86Z" fill="#ff00ff"/><path d="M216.21,169.26L218.08,165.86L214.34,165.86Z" fill="#ff00ff"/><path d="M219.14,170.77L221.01,167.37L217.27,167.37Z" fill="#ff00ff"/><path d="M222.07,171.88L223.94,168.48L220.20,168.48Z" fill="#ff00ff"/><path d="M225.00,172.70L226.87,169.30L223.13,169.30Z" fill="#ff00ff"/><path d="M227.92,173.30L229.79,169.90L226.05,169.90Z" fill="#ff00ff"/><path d="M230.85,173.74L232.72,170.34L228.98,170.34Z" fill="#ff00ff"/><path d="M233.78,174.06L235.65,170.66L231.91,170.66Z" fill="#ff00ff"/><path d="M236.71,174.29L238.58,170.89L234.84,170.89Z" fill="#ff00ff"/><path d="M239.64,174.47L241.51,171.07L237.77,171.07Z" fill="#ff00ff"/><path d="M242.56,174.60L244.43,171.20L240.69,171.20Z" fill="#ff00ff"/><path d="M245.49,174.70L247.36,171.30L243.62,171.30Z" fill="#ff00ff"/><path d="M248.42,174.77L250.29,171.37L246.55,171.37Z" fill="#ff00ff"/><path d="M251.35,174.83L253.22,171.43L249.48,171.43Z" fill="#ff00ff"/><path d="M254.28,174.87L256.15,171.47L252.41,171.47Z" fill="#ff00ff"/><path d="M257.20,174.91L259.07,171.51L255.33,171.51Z" fill="#ff00ff"/><path d="M260.13,174.93L262.00,171.53L258.26,171.53Z" fill="#ff00ff"/><polyline points="87.38,38.79 90.31,38.93 93.24,39.10 96.16,39.31 99.09,39.58 102.02,39.90 104.95,40.30 107.88,40.79 110.80,41.39 113.73,42.14 116.66,43.05 119.59,44.18 122.52,45.57 125.44,47.28 128.37,49.36 131.30,51.92 134.23,55.02 137.16,58.79 140.08,63.32 143.01,68.73 145.94,75.09 148.87,82.45 151.80,90.76 154.72,99.88 157.65,109.55 160.58,119.37 163.51,128.90 166.44,137.70 169.36,145.38 172.29,151.70 175.22,156.48 178.15,159.64 181.08,161.16 184.00,161.02 186.93,159.22 189.86,155.77 192.79,150.73 195.72,144.16 198.64,136.26 201.57,127.32 204.50,117.70 207.43,107.88 210.36,98.28 213.28,89.28 216.21,81.12 219.14,73.93 222.07,67.74 225.00,62.49 227.92,58.10 230.85,54.45 233.78,51.44 236.71,48.98 239.64,46.96 242.56,45.31 245.49,43.97 248.42,42.88 251.35,42.00 254.28,41.28 257.20,40.69 260.13,40.22" fill="none" stroke="#ff00ff" stroke-width="0.5"/><path d="M87.38,40.83L89.25,37.43L85.51,37.43Z" fill="#ff00ff"/><path d="M90.31,40.97L92.18,37.57L88.44,37.57Z" fill="#ff00ff"/><path d="M93.24,41.14L95.11,37.74L91.37,37.74Z" fill="#ff00ff"/><path d="M96.16,41.35L98.03,37.95L94.29,37.95Z" fill="#ff00ff"/><path d="M99.09,41.62L100.96,38.22L97.22,38.22Z" fill="#ff00ff"/><path d="M102.02,41.94L103.89,38.54L100.15,38.54Z" fill="#ff00ff"/><path d="M104.95,42.34L106.82,38.94L103.08,38.94Z" fill="#ff00ff"/><path d="M107.88,42.83L109.75,39.43L106.01,39.43Z" fill="#ff00ff"/><path d="M110.80,43.43L112.67,40.03L108.93,40.03Z" fill="#ff00ff"/><path d="M113.73,44.18L115.60,40.78L111.86,40.78Z" fill="#ff00ff"/><path d="M116.66,45.09L118.53,41.69L114.79,41.69Z" fill="#ff00ff"/><path d="M119.59,46.22L121.46,42.82L117.72,42.82Z" fill="#ff00ff"/><path d="M122.52,47.61L124.39,44.21L120.65,44.21Z" fill="#ff00ff"/><path d="M125.44,49.32L127.31,45.92L123.57,45.92Z" fill="#ff00ff"/><path d="M128.37,51.40L130.24,48.00L126.50,48.00Z" fill="#ff00ff"/><path d="M131.30,53.96L133.17,50.56L129.43,50.56Z" fill="#ff00ff"/><path d="M134.23,57.06L136.10,53.66L132.36,53.66Z" fill="#ff00ff"/><path d="M137.16,60.83L139.03,57.43L135.29,57.43Z" fill="#ff00ff"/><path d="M140.08,65.36L141.95,61.96L138.21,61.96Z" fill="#ff00ff"/><path d="M143.01,70.77L144.88,67.37L141.14,67.37Z" fill="#ff00ff"/><path d="M145.94,77.13L147.81,73.73L144.07,73.73Z" fill="#ff00ff"/><path d="M148.87,84.49L150.74,81.09L147.00,81.09Z" fill="#ff00ff"/><path d="M151.80,92.80L153.67,89.40L149.93,89.40Z" fill="#ff00ff"/><path d="M154.72,101.92L156.59,98.52L152.85,98.52Z" fill="#ff00ff"/><path d="M157.65,111.59L159.52,108.19L155.78,108.19Z" fill="#ff00ff"/><path d="M160.58,121.41L162.45,118.01L158.71,118.01Z" fill="#ff00ff"/><path d="M163.51,130.94L165.38,127.54L161.64,127.54Z" fill="#ff00ff"/><path d="M166.44,139.74L168.31,136.34L164.57,136.34Z" fill="#ff00ff"/><path d="M169.36,147.42L171.23,144.02L167.49,144.02Z" fill="#ff00ff"/><path d="M172.29,153.74L174.16,150.34L170.42,150.34Z" fill="#ff00ff"/><path d="M175.22,158.52L177.09,155.12L173.35,155.12Z" fill="#ff00ff"/><path d="M178.15,161.68L180.02,158.28L176.28,158.28Z" fill="#ff00ff"/><path d="M181.08,163.20L182.95,159.80L179.21,159.80Z" fill="#ff00ff"/><path d="M184.00,163.06L185.87,159.66L182.13,159.66Z" fill="#ff00ff"/><path d="M186.93,161.26L188.80,157.86L185.06,157.86Z" fill="#ff00ff"/><path d="M189.86,157.81L191.73,154.41L187.99,154.41Z" fill="#ff00ff"/><path d="M192.79,152.77L194.66,149.37L190.92,149.37Z" fill="#ff00ff"/><path d="M195.72,146.20L197.59,142.80L193.85,142.80Z" fill="#ff00ff"/><path d="M198.64,138.30L200.51,134.90L196.77,134.90Z" fill="#ff00ff"/><path d="M201.57,129.36L203.44,125.96L199.70,125.96Z" fill="#ff00ff"/><path d="M204.50,119.74L206.37,116.34L202.63,116.34Z" fill="#ff00ff"/><path d="M207.43,109.92L209.30,106.52L205.56,106.52Z" fill="#ff00ff"/><path d="M210.36,100.32L212.23,96.92L208.49,96.92Z" fill="#ff00ff"/><path d="M213.28,91.32L215.15,87.92L211.41,87.92Z" fill="#ff00ff"/><path d="M216.21,83.16L218.08,79.76L214.34,79.76Z" fill="#ff00ff"/><path d="M219.14,75.97L221.01,72.57L217.27,72.57Z" fill="#ff00ff"/><path d="M222.07,69.78L223.94,66.38L220.20,66.38Z" fill="#ff00ff"/><path d="M225.00,64.53L226.87,61.13L223.13,61.13Z" fill="#ff00ff"/><path d="M227.92,60.14L229.79,56.74L226.05,56.74Z" fill="#ff00ff"/><path d="M230.85,56.49L232.72,53.09L228.98,53.09Z" fill="#ff00ff"/><path d="M233.78,53.48L235.65,50.08L231.91,50.08Z" fill="#ff00ff"/><path d="M236.71,51.02L238.58,47.62L234.84,47.62Z" fill="#ff00ff"/><path d="M239.64,49.00L241.51,45.60L237.77,45.60Z" fill="#ff00ff"/><path d="M242.56,47.35L244.43,43.95L240.69,43.95Z" fill="#ff00ff"/><path d="M245.49,46.01L247.36,42.61L243.62,42.61Z" fill="#ff00ff"/><path d="M248.42,44.92L250.29,41.52L246.55,41.52Z" fill="#ff00ff"/><path d="M251.35,44.04L253.22,40.64L249.48,40.64Z" fill="#ff00ff"/><path d="M254.28,43.32L256.15,39.92L252.41,39.92Z" fill="#ff00ff"/><path d="M257.20,42.73L259.07,39.33L255.33,39.33Z" fill="#ff00ff"/><path d="M260.13,42.26L262.00,38.86L258.26,38.86Z" fill="#ff00ff"/><polyline points="87.38,48.03 90.31,48.03 93.24,48.04 96.16,48.05 99.09,48.06 102.02,48.08 104.95,48.10 107.88,48.12 110.80,48.15 113.73,48.20 116.66,48.25 119.59,48.32 122.52,48.42 125.44,48.55 128.37,48.72 131.30,48.96 134.23,49.28 137.16,49.73 140.08,50.34 143.01,51.19 145.94,52.36 148.87,53.94 151.80,56.05 154.72,58.79 157.65,62.24 160.58,66.44 163.51,71.35 166.44,76.92 169.36,83.04 172.29,89.60 175.22,96.47 178.15,103.57 181.08,110.82 184.00,118.13 186.93,125.44 189.86,132.69 192.79,139.81 195.72,146.71 198.64,153.30 201.57,159.46 204.50,165.08 207.43,170.06 210.36,174.32 213.28,177.83 216.21,180.63 219.14,182.79 222.07,184.42 225.00,185.62 227.92,186.49 230.85,187.13 233.78,187.59 236.71,187.92 239.64,188.16 242.56,188.34 245.49,188.47 248.42,188.57 251.35,188.64 254.28,188.70 257.20,188.74 260.13,188.78" fill="none" stroke="#008000" stroke-width="0.5"/><path d="M87.38,46.05L89.19,48.03L87.38,50.01L85.56,48.03Z" fill="#008000"/><path d="M90.31,46.05L92.12,48.03L90.31,50.01L88.49,48.03Z" fill="#008000"/><path d="M93.24,46.06L95.05,48.04L93.24,50.02L91.42,48.04Z" fill="#008000"/><path d="M96.16,46.07L97.98,48.05L96.16,50.03L94.35,48.05Z" fill="#008000"/><path d="M99.09,46.08L100.91,48.06L99.09,50.04L97.28,48.06Z" fill="#008000"/><path d="M102.02,46.10L103.84,48.08L102.02,50.06L100.21,48.08Z" fill="#008000"/><path d="M104.95,46.12L106.76,48.10L104.95,50.08L103.13,48.10Z" fill="#008000"/><path d="M107.88,46.14L109.69,48.12L107.88,50.10L106.06,48.12Z" fill="#008000"/><path d="M110.80,46.17L112.62,48.15L110.80,50.13L108.99,48.15Z" fill="#008000"/><path d="M113.73,46.22L115.55,48.20L113.73,50.18L111.92,48.20Z" fill="#008000"/><path d="M116.66,46.27L118.47,48.25L116.66,50.23L114.84,48.25Z" fill="#008000"/><path d="M119.59,46.34L121.40,48.32L119.59,50.30L117.77,48.32Z" fill="#008000"/><path d="M122.52,46.44L124.33,48.42L122.52,50.40L120.70,48.42Z" fill="#008000"/><path d="M125.44,46.57L127.26,48.55L125.44,50.53L123.63,48.55Z" fill="#008000"/><path d="M128.37,46.74L130.19,48.72L128.37,50.70L126.56,48.72Z" fill="#008000"/><path d="M131.30,46.98L133.12,48.96L131.30,50.94L129.49,48.96Z" fill="#008000"/><path d="M134.23,47.30L136.04,49.28L134.23,51.26L132.41,49.28Z" fill="#008000"/><path d="M137.16,47.75L138.97,49.73L137.16,51.71L135.34,49.73Z" fill="#008000"/><path d="M140.08,48.36L141.90,50.34L140.08,52.32L138.27,50.34Z" fill="#008000"/><path d="M143.01,49.21L144.83,51.19L143.01,53.17L141.20,51.19Z" fill="#008000"/><path d="M145.94,50.38L147.75,52.36L145.94,54.34L144.12,52.36Z" fill="#008000"/><path d="M148.87,51.96L150.68,53.94L148.87,55.92L147.05,53.94Z" fill="#008000"/><path d="M151.80,54.07L153.61,56.05L151.80,58.03L149.98,56.05Z" fill="#008000"/><path d="M154.72,56.81L156.54,58.79L154.72,60.77L152.91,58.79Z" fill="#008000"/><path d="M157.65,60.26L159.47,62.24L157.65,64.22L155.84,62.24Z" fill="#008000"/><path d="M160.58,64.46L162.40,66.44L160.58,68.42L158.77,66.44Z" fill="#008000"/><path d="M163.51,69.37L165.32,71.35L163.51,73.33L161.69,71.35Z" fill="#008000"/><path d="M166.44,74.94L168.25,76.92L166.44,78.90L164.62,76.92Z" fill="#008000"/><path d="M169.36,81.06L171.18,83.04L169.36,85.02L167.55,83.04Z" fill="#008000"/><path d="M172.29,87.62L174.11,89.60L172.29,91.58L170.48,89.60Z" fill="#008000"/><path d="M175.22,94.49L177.03,96.47L175.22,98.45L173.41,96.47Z" fill="#008000"/><path d="M178.15,101.59L179.96,103.57L178.15,105.55L176.33,103.57Z" fill="#008000"/><path d="M181.08,108.84L182.89,110.82L181.08,112.80L179.26,110.82Z" fill="#008000"/><path d="M184.00,116.15L185.82,118.13L184.00,120.11L182.19,118.13Z" fill="#008000"/><path d="M186.93,123.46L188.75,125.44L186.93,127.42L185.12,125.44Z" fill="#008000"/><path d="M189.86,130.71L191.67,132.69L189.86,134.67L188.04,132.69Z" fill="#008000"/><path d="M192.79,137.83L194.60,139.81L192.79,141.79L190.97,139.81Z" fill="#008000"/><path d="M195.72,144.73L197.53,146.71L195.72,148.69L193.90,146.71Z" fill="#008000"/><path d="M198.64,151.32L200.46,153.30L198.64,155.28L196.83,153.30Z" fill="#008000"/><path d="M201.57,157.48L203.39,159.46L201.57,161.44L199.76,159.46Z" fill="#008000"/><path d="M204.50,163.10L206.31,165.08L204.50,167.06L202.69,165.08Z" fill="#008000"/><path d="M207.43,168.08L209.24,170.06L207.43,172.04L205.61,170.06Z" fill="#008000"/><path d="M210.36,172.34L212.17,174.32L210.36,176.30L208.54,174.32Z" fill="#008000"/><path d="M213.28,175.85L215.10,177.83L213.28,179.81L211.47,177.83Z" fill="#008000"/><path d="M216.21,178.65L218.03,180.63L216.21,182.61L214.40,180.63Z" fill="#008000"/><path d="M219.14,180.81L220.96,182.79L219.14,184.77L217.33,182.79Z" fill="#008000"/><path d="M222.07,182.44L223.88,184.42L222.07,186.40L220.25,184.42Z" fill="#008000"/><path d="M225.00,183.64L226.81,185.62L225.00,187.60L223.18,185.62Z" fill="#008000"/><path d="M227.92,184.51L229.74,186.49L227.92,188.47L226.11,186.49Z" fill="#008000"/><path d="M230.85,185.15L232.67,187.13L230.85,189.11L229.04,187.13Z" fill="#008000"/><path d="M233.78,185.61L235.59,187.59L233.78,189.57L231.97,187.59Z" fill="#008000"/><path d="M236.71,185.94L238.52,187.92L236.71,189.90L234.89,187.92Z" fill="#008000"/><path d="M239.64,186.18L241.45,188.16L239.64,190.14L237.82,188.16Z" fill="#008000"/><path d="M242.56,186.36L244.38,188.34L242.56,190.32L240.75,188.34Z" fill="#008000"/><path d="M245.49,186.49L247.31,188.47L245.49,190.45L243.68,188.47Z" fill="#008000"/><path d="M248.42,186.59L250.23,188.57L248.42,190.55L246.60,188.57Z" fill="#008000"/><path d="M251.35,186.66L253.16,188.64L251.35,190.62L249.53,188.64Z" fill="#008000"/><path d="M254.28,186.72L256.09,188.70L254.28,190.68L252.46,188.70Z" fill="#008000"/><path d="M257.20,186.76L259.02,188.74L257.20,190.72L255.39,188.74Z" fill="#008000"/><path d="M260.13,186.80L261.95,188.78L260.13,190.76L258.32,188.78Z" fill="#008000"/><polyline points="87.38,38.95 90.31,39.13 93.24,39.35 96.16,39.62 99.09,39.96 102.02,40.37 104.95,40.89 107.88,41.52 110.80,42.31 113.73,43.28 116.66,44.47 119.59,45.95 122.52,47.76 125.44,49.98 128.37,52.71 131.30,56.04 134.23,60.08 137.16,64.95 140.08,70.77 143.01,77.62 145.94,85.54 148.87,94.48 151.80,104.26 154.72,114.60 157.65,125.06 160.58,135.20 163.51,144.58 166.44,152.86 169.36,159.82 172.29,165.38 175.22,169.50 178.15,172.19 181.08,173.47 184.00,173.37 186.93,171.89 189.86,169.00 192.79,164.68 195.72,158.92 198.64,151.76 201.57,143.31 204.50,133.80 207.43,123.59 210.36,113.12 213.28,102.84 216.21,93.15 219.14,84.35 222.07,76.58 225.00,69.88 227.92,64.21 230.85,59.46 233.78,55.52 236.71,52.29 239.64,49.64 242.56,47.48 245.49,45.72 248.42,44.29 251.35,43.13 254.28,42.19 257.20,41.43 260.13,40.81" fill="none" stroke="#008000" stroke-width="0.5"/><path d="M87.38,36.97L89.19,38.95L87.38,40.93L85.56,38.95Z" fill="#008000"/><path d="M90.31,37.15L92.12,39.13L90.31,41.11L88.49,39.13Z" fill="#008000"/><path d="M93.24,37.37L95.05,39.35L93.24,41.33L91.42,39.35Z" fill="#008000"/><path d="M96.16,37.64L97.98,39.62L96.16,41.60L94.35,39.62Z" fill="#008000"/><path d="M99.09,37.98L100.91,39.96L99.09,41.94L97.28,39.96Z" fill="#008000"/><path d="M102.02,38.39L103.84,40.37L102.02,42.35L100.21,40.37Z" fill="#008000"/><path d="M104.95,38.91L106.76,40.89L104.95,42.87L103.13,40.89Z" fill="#008000"/><path d="M107.88,39.54L109.69,41.52L107.88,43.50L106.06,41.52Z" fill="#008000"/><path d="M110.80,40.33L112.62,42.31L110.80,44.29L108.99,42.31Z" fill="#008000"/><path d="M113.73,41.30L115.55,43.28L113.73,45.26L111.92,43.28Z" fill="#008000"/><path d="M116.66,42.49L118.47,44.47L116.66,46.45L114.84,44.47Z" fill="#008000"/><path d="M119.59,43.97L121.40,45.95L119.59,47.93L117.77,45.95Z" fill="#008000"/><path d="M122.52,45.78L124.33,47.76L122.52,49.74L120.70,47.76Z" fill="#008000"/><path d="M125.44,48.00L127.26,49.98L125.44,51.96L123.63,49.98Z" fill="#008000"/><path d="M128.37,50.73L130.19,52.71L128.37,54.69L126.56,52.71Z" fill="#008000"/><path d="M131.30,54.06L133.12,56.04L131.30,58.02L129.49,56.04Z" fill="#008000"/><path d="M134.23,58.10L136.04,60.08L134.23,62.06L132.41,60.08Z" fill="#008000"/><path d="M137.16,62.97L138.97,64.95L137.16,66.93L135.34,64.95Z" fill="#008000"/><path d="M140.08,68.79L141.90,70.77L140.08,72.75L138.27,70.77Z" fill="#008000"/><path d="M143.01,75.64L144.83,77.62L143.01,79.60L141.20,77.62Z" fill="#008000"/><path d="M145.94,83.56L147.75,85.54L145.94,87.52L144.12,85.54Z" fill="#008000"/><path d="M148.87,92.50L150.68,94.48L148.87,96.46L147.05,94.48Z" fill="#008000"/><path d="M151.80,102.28L153.61,104.26L151.80,106.24L149.98,104.26Z" fill="#008000"/><path d="M154.72,112.62L156.54,114.60L154.72,116.58L152.91,114.60Z" fill="#008000"/><path d="M157.65,123.08L159.47,125.06L157.65,127.04L155.84,125.06Z" fill="#008000"/><path d="M160.58,133.22L162.40,135.20L160.58,137.18L158.77,135.20Z" fill="#008000"/><path d="M163.51,142.60L165.32,144.58L163.51,146.56L161.69,144.58Z" fill="#008000"/><path d="M166.44,150.88L168.25,152.86L166.44,154.84L164.62,152.86Z" fill="#008000"/><path d="M169.36,157.84L171.18,159.82L169.36,161.80L167.55,159.82Z" fill="#008000"/><path d="M172.29,163.40L174.11,165.38L172.29,167.36L170.48,165.38Z" fill="#008000"/><path d="M175.22,167.52L177.03,169.50L175.22,171.48L173.41,169.50Z" fill="#008000"/><path d="M178.15,170.21L179.96,172.19L178.15,174.17L176.33,172.19Z" fill="#008000"/><path d="M181.08,171.49L182.89,173.47L181.08,175.45L179.26,173.47Z" fill="#008000"/><path d="M184.00,171.39L185.82,173.37L184.00,175.35L182.19,173.37Z" fill="#008000"/><path d="M186.93,169.91L188.75,171.89L186.93,173.87L185.12,171.89Z" fill="#008000"/><path d="M189.86,167.02L191.67,169.00L189.86,170.98L188.04,169.00Z" fill="#008000"/><path d="M192.79,162.70L194.60,164.68L192.79,166.66L190.97,164.68Z" fill="#008000"/><path d="M195.72,156.94L197.53,158.92L195.72,160.90L193.90,158.92Z" fill="#008000"/><path d="M198.64,149.78L200.46,151.76L198.64,153.74L196.83,151.76Z" fill="#008000"/><path d="M201.57,141.33L203.39,143.31L201.57,145.29L199.76,143.31Z" fill="#008000"/><path d="M204.50,131.82L206.31,133.80L204.50,135.78L202.69,133.80Z" fill="#008000"/><path d="M207.43,121.61L209.24,123.59L207.43,125.57L205.61,123.59Z" fill="#008000"/><path d="M210.36,111.14L212.17,113.12L210.36,115.10L208.54,113.12Z" fill="#008000"/><path d="M213.28,100.86L215.10,102.84L213.28,104.82L211.47,102.84Z" fill="#008000"/><path d="M216.21,91.17L218.03,93.15L216.21,95.13L214.40,93.15Z" fill="#008000"/><path d="M219.14,82.37L220.96,84.35L219.14,86.33L217.33,84.35Z" fill="#008000"/><path d="M222.07,74.60L223.88,76.58L222.07,78.56L220.25,76.58Z" fill="#008000"/><path d="M225.00,67.90L226.81,69.88L225.00,71.86L223.18,69.88Z" fill="#008000"/><path d="M227.92,62.23L229.74,64.21L227.92,66.19L226.11,64.21Z" fill="#008000"/><path d="M230.85,57.48L232.67,59.46L230.85,61.44L229.04,59.46Z" fill="#008000"/><path d="M233.78,53.54L235.59,55.52L233.78,57.50L231.97,55.52Z" fill="#008000"/><path d="M236.71,50.31L238.52,52.29L236.71,54.27L234.89,52.29Z" fill="#008000"/><path d="M239.64,47.66L241.45,49.64L239.64,51.62L237.82,49.64Z" fill="#008000"/><path d="M242.56,45.50L244.38,47.48L242.56,49.46L240.75,47.48Z" fill="#008000"/><path d="M245.49,43.74L247.31,45.72L245.49,47.70L243.68,45.72Z" fill="#008000"/><path d="M248.42,42.31L250.23,44.29L248.42,46.27L246.60,44.29Z" fill="#008000"/><path d="M251.35,41.15L253.16,43.13L251.35,45.11L249.53,43.13Z" fill="#008000"/><path d="M254.28,40.21L256.09,42.19L254.28,44.17L252.46,42.19Z" fill="#008000"/><path d="M257.20,39.45L259.02,41.43L257.20,43.41L255.39,41.43Z" fill="#008000"/><path d="M260.13,38.83L261.95,40.81L260.13,42.79L258.32,40.81Z" fill="#008000"/><polyline points="87.38,33.63 90.31,33.63 93.24,33.64 96.16,33.65 99.09,33.67 102.02,33.69 104.95,33.71 107.88,33.74 110.80,33.77 113.73,33.82 116.66,33.88 119.59,33.96 122.52,34.07 125.44,34.21 128.37,34.41 131.30,34.68 134.23,35.05 137.16,35.56 140.08,36.26 143.01,37.24 145.94,38.56 148.87,40.35 151.80,42.72 154.72,45.75 157.65,49.51 160.58,54.02 163.51,59.23 166.44,65.06 169.36,71.40 172.29,78.13 175.22,85.15 178.15,92.37 181.08,99.73 184.00,107.15 186.93,114.60 189.86,122.01 192.79,129.33 195.72,136.50 198.64,143.44 201.57,150.06 204.50,156.24 207.43,161.89 210.36,166.89 213.28,171.16 216.21,174.69 219.14,177.50 222.07,179.67 225.00,181.30 227.92,182.51 230.85,183.38 233.78,184.02 236.71,184.48 239.64,184.81 242.56,185.06 245.49,185.24 248.42,185.37 251.35,185.47 254.28,185.54 257.20,185.60 260.13,185.64" fill="none" stroke="#000080" stroke-width="0.5"/><path d="M85.34,33.63L88.74,31.76L88.74,35.50Z" fill="#000080"/><path d="M88.27,33.63L91.67,31.76L91.67,35.50Z" fill="#000080"/><path d="M91.20,33.64L94.60,31.77L94.60,35.51Z" fill="#000080"/><path d="M94.12,33.65L97.52,31.78L97.52,35.52Z" fill="#000080"/><path d="M97.05,33.67L100.45,31.80L100.45,35.54Z" fill="#000080"/><path d="M99.98,33.69L103.38,31.82L103.38,35.56Z" fill="#000080"/><path d="M102.91,33.71L106.31,31.84L106.31,35.58Z" fill="#000080"/><path d="M105.84,33.74L109.24,31.87L109.24,35.61Z" fill="#000080"/><path d="M108.76,33.77L112.16,31.90L112.16,35.64Z" fill="#000080"/><path d="M111.69,33.82L115.09,31.95L115.09,35.69Z" fill="#000080"/><path d="M114.62,33.88L118.02,32.01L118.02,35.75Z" fill="#000080"/><path d="M117.55,33.96L120.95,32.09L120.95,35.83Z" fill="#000080"/><path d="M120.48,34.07L123.88,32.20L123.88,35.94Z" fill="#000080"/><path d="M123.40,34.21L126.80,32.34L126.80,36.08Z" fill="#000080"/><path d="M126.33,34.41L129.73,32.54L129.73,36.28Z" fill="#000080"/><path d="M129.26,34.68L132.66,32.81L132.66,36.55Z" fill="#000080"/><path d="M132.19,35.05L135.59,33.18L135.59,36.92Z" fill="#000080"/><path d="M135.12,35.56L138.52,33.69L138.52,37.43Z" fill="#000080"/><path d="M138.04,36.26L141.44,34.39L141.44,38.13Z" fill="#000080"/><path d="M140.97,37.24L144.37,35.37L144.37,39.11Z" fill="#000080"/><path d="M143.90,38.56L147.30,36.69L147.30,40.43Z" fill="#000080"/><path d="M146.83,40.35L150.23,38.48L150.23,42.22Z" fill="#000080"/><path d="M149.76,42.72L153.16,40.85L153.16,44.59Z" fill="#000080"/><path d="M152.68,45.75L156.08,43.88L156.08,47.62Z" fill="#000080"/><path d="M155.61,49.51L159.01,47.64L159.01,51.38Z" fill="#000080"/><path d="M158.54,54.02L161.94,52.15L161.94,55.89Z" fill="#000080"/><path d="M161.47,59.23L164.87,57.36L164.87,61.10Z" fill="#000080"/><path d="M164.40,65.06L167.80,63.19L167.80,66.93Z" fill="#000080"/><path d="M167.32,71.40L170.72,69.53L170.72,73.27Z" fill="#000080"/><path d="M170.25,78.13L173.65,76.26L173.65,80.00Z" fill="#000080"/><path d="M173.18,85.15L176.58,83.28L176.58,87.02Z" fill="#000080"/><path d="M176.11,92.37L179.51,90.50L179.51,94.24Z" fill="#000080"/><path d="M179.04,99.73L182.44,97.86L182.44,101.60Z" fill="#000080"/><path d="M181.96,107.15L185.36,105.28L185.36,109.02Z" fill="#000080"/><path d="M184.89,114.60L188.29,112.73L188.29,116.47Z" fill="#000080"/><path d="M187.82,122.01L191.22,120.14L191.22,123.88Z" fill="#000080"/><path d="M190.75,129.33L194.15,127.46L194.15,131.20Z" fill="#000080"/><path d="M193.68,136.50L197.08,134.63L197.08,138.37Z" fill="#000080"/><path d="M196.60,143.44L200.00,141.57L200.00,145.31Z" fill="#000080"/><path d="M199.53,150.06L202.93,148.19L202.93,151.93Z" fill="#000080"/><path d="M202.46,156.24L205.86,154.37L205.86,158.11Z" fill="#000080"/><path d="M205.39,161.89L208.79,160.02L208.79,163.76Z" fill="#000080"/><path d="M208.32,166.89L211.72,165.02L211.72,168.76Z" fill="#000080"/><path d="M211.24,171.16L214.64,169.29L214.64,173.03Z" fill="#000080"/><path d="M214.17,174.69L217.57,172.82L217.57,176.56Z" fill="#000080"/><path d="M217.10,177.50L220.50,175.63L220.50,179.37Z" fill="#000080"/><path d="M220.03,179.67L223.43,177.80L223.43,181.54Z" fill="#000080"/><path d="M222.96,181.30L226.36,179.43L226.36,183.17Z" fill="#000080"/><path d="M225.88,182.51L229.28,180.64L229.28,184.38Z" fill="#000080"/><path d="M228.81,183.38L232.21,181.51L232.21,185.25Z" fill="#000080"/><path d="M231.74,184.02L235.14,182.15L235.14,185.89Z" fill="#000080"/><path d="M234.67,184.48L238.07,182.61L238.07,186.35Z" fill="#000080"/><path d="M237.60,184.81L241.00,182.94L241.00,186.68Z" fill="#000080"/><path d="M240.52,185.06L243.92,183.19L243.92,186.93Z" fill="#000080"/><path d="M243.45,185.24L246.85,183.37L246.85,187.11Z" fill="#000080"/><path d="M246.38,185.37L249.78,183.50L249.78,187.24Z" fill="#000080"/><path d="M249.31,185.47L252.71,183.60L252.71,187.34Z" fill="#000080"/><path d="M252.24,185.54L255.64,183.67L255.64,187.41Z" fill="#000080"/><path d="M255.16,185.60L258.56,183.73L258.56,187.47Z" fill="#000080"/><path d="M258.09,185.64L261.49,183.77L261.49,187.51Z" fill="#000080"/><polyline points="87.38,39.02 90.31,39.22 93.24,39.46 96.16,39.76 99.09,40.13 102.02,40.59 104.95,41.15 107.88,41.85 110.80,42.71 113.73,43.77 116.66,45.08 119.59,46.70 122.52,48.68 125.44,51.12 128.37,54.10 131.30,57.73 134.23,62.13 137.16,67.41 140.08,73.69 143.01,81.04 145.94,89.46 148.87,98.87 151.80,109.04 154.72,119.61 157.65,130.16 160.58,140.23 163.51,149.43 166.44,157.48 169.36,164.24 172.29,169.64 175.22,173.71 178.15,176.47 181.08,177.98 184.00,178.25 186.93,177.31 189.86,175.12 192.79,171.65 195.72,166.86 198.64,160.72 201.57,153.24 204.50,144.53 207.43,134.82 210.36,124.43 213.28,113.81 216.21,103.41 219.14,93.62 222.07,84.74 225.00,76.90 227.92,70.14 230.85,64.41 233.78,59.62 236.71,55.66 239.64,52.40 242.56,49.73 245.49,47.55 248.42,45.77 251.35,44.33 254.28,43.16 257.20,42.22 260.13,41.45" fill="none" stroke="#000080" stroke-width="0.5"/><path d="M85.34,39.02L88.74,37.15L88.74,40.89Z" fill="#000080"/><path d="M88.27,39.22L91.67,37.35L91.67,41.09Z" fill="#000080"/><path d="M91.20,39.46L94.60,37.59L94.60,41.33Z" fill="#000080"/><path d="M94.12,39.76L97.52,37.89L97.52,41.63Z" fill="#000080"/><path d="M97.05,40.13L100.45,38.26L100.45,42.00Z" fill="#000080"/><path d="M99.98,40.59L103.38,38.72L103.38,42.46Z" fill="#000080"/><path d="M102.91,41.15L106.31,39.28L106.31,43.02Z" fill="#000080"/><path d="M105.84,41.85L109.24,39.98L109.24,43.72Z" fill="#000080"/><path d="M108.76,42.71L112.16,40.84L112.16,44.58Z" fill="#000080"/><path d="M111.69,43.77L115.09,41.90L115.09,45.64Z" fill="#000080"/><path d="M114.62,45.08L118.02,43.21L118.02,46.95Z" fill="#000080"/><path d="M117.55,46.70L120.95,44.83L120.95,48.57Z" fill="#000080"/><path d="M120.48,48.68L123.88,46.81L123.88,50.55Z" fill="#000080"/><path d="M123.40,51.12L126.80,49.25L126.80,52.99Z" fill="#000080"/><path d="M126.33,54.10L129.73,52.23L129.73,55.97Z" fill="#000080"/><path d="M129.26,57.73L132.66,55.86L132.66,59.60Z" fill="#000080"/><path d="M132.19,62.13L135.59,60.26L135.59,64.00Z" fill="#000080"/><path d="M135.12,67.41L138.52,65.54L138.52,69.28Z" fill="#000080"/><path d="M138.04,73.69L141.44,71.82L141.44,75.56Z" fill="#000080"/><path d="M140.97,81.04L144.37,79.17L144.37,82.91Z" fill="#000080"/><path d="M143.90,89.46L147.30,87.59L147.30,91.33Z" fill="#000080"/><path d="M146.83,98.87L150.23,97.00L150.23,100.74Z" fill="#000080"/><path d="M149.76,109.04L153.16,107.17L153.16,110.91Z" fill="#000080"/><path d="M152.68,119.61L156.08,117.74L156.08,121.48Z" fill="#000080"/><path d="M155.61,130.16L159.01,128.29L159.01,132.03Z" fill="#000080"/><path d="M158.54,140.23L161.94,138.36L161.94,142.10Z" fill="#000080"/><path d="M161.47,149.43L164.87,147.56L164.87,151.30Z" fill="#000080"/><path d="M164.40,157.48L167.80,155.61L167.80,159.35Z" fill="#000080"/><path d="M167.32,164.24L170.72,162.37L170.72,166.11Z" fill="#000080"/><path d="M170.25,169.64L173.65,167.77L173.65,171.51Z" fill="#000080"/><path d="M173.18,173.71L176.58,171.84L176.58,175.58Z" fill="#000080"/><path d="M176.11,176.47L179.51,174.60L179.51,178.34Z" fill="#000080"/><path d="M179.04,177.98L182.44,176.11L182.44,179.85Z" fill="#000080"/><path d="M181.96,178.25L185.36,176.38L185.36,180.12Z" fill="#000080"/><path d="M184.89,177.31L188.29,175.44L188.29,179.18Z" fill="#000080"/><path d="M187.82,175.12L191.22,173.25L191.22,176.99Z" fill="#000080"/><path d="M190.75,171.65L194.15,169.78L194.15,173.52Z" fill="#000080"/><path d="M193.68,166.86L197.08,164.99L197.08,168.73Z" fill="#000080"/><path d="M196.60,160.72L200.00,158.85L200.00,162.59Z" fill="#000080"/><path d="M199.53,153.24L202.93,151.37L202.93,155.11Z" fill="#000080"/><path d="M202.46,144.53L205.86,142.66L205.86,146.40Z" fill="#000080"/><path d="M205.39,134.82L208.79,132.95L208.79,136.69Z" fill="#000080"/><path d="M208.32,124.43L211.72,122.56L211.72,126.30Z" fill="#000080"/><path d="M211.24,113.81L214.64,111.94L214.64,115.68Z" fill="#000080"/><path d="M214.17,103.41L217.57,101.54L217.57,105.28Z" fill="#000080"/><path d="M217.10,93.62L220.50,91.75L220.50,95.49Z" fill="#000080"/><path d="M220.03,84.74L223.43,82.87L223.43,86.61Z" fill="#000080"/><path d="M222.96,76.90L226.36,75.03L226.36,78.77Z" fill="#000080"/><path d="M225.88,70.14L229.28,68.27L229.28,72.01Z" fill="#000080"/><path d="M228.81,64.41L232.21,62.54L232.21,66.28Z" fill="#000080"/><path d="M231.74,59.62L235.14,57.75L235.14,61.49Z" fill="#000080"/><path d="M234.67,55.66L238.07,53.79L238.07,57.53Z" fill="#000080"/><path d="M237.60,52.40L241.00,50.53L241.00,54.27Z" fill="#000080"/><path d="M240.52,49.73L243.92,47.86L243.92,51.60Z" fill="#000080"/><path d="M243.45,47.55L246.85,45.68L246.85,49.42Z" fill="#000080"/><path d="M246.38,45.77L249.78,43.90L249.78,47.64Z" fill="#000080"/><path d="M249.31,44.33L252.71,42.46L252.71,46.20Z" fill="#000080"/><path d="M252.24,43.16L255.64,41.29L255.64,45.03Z" fill="#000080"/><path d="M255.16,42.22L258.56,40.35L258.56,44.09Z" fill="#000080"/><path d="M258.09,41.45L261.49,39.58L261.49,43.32Z" fill="#000080"/></g>
<rect x="213.5" y="21.5" width="73.5" height="70.5" fill="#000"/>
<rect x="210.5" y="18.5" width="73.5" height="70.5" fill="#fff" stroke="#888" stroke-width="0.8"/>
<line x1="212.0" x2="229.5" y1="24.50" y2="24.50" stroke="#000000" stroke-width="0.4"/>
<rect x="219.31" y="22.62" width="2.97" height="2.97" fill="#000000"/>
<text x="253.8" y="26.80" text-anchor="end" class="lg">Blank</text>
<line x1="212.0" x2="229.5" y1="33.50" y2="33.50" stroke="#ff0000" stroke-width="0.4"/>
<circle cx="220.80" cy="33.93" r="1.65" fill="#ff0000"/>
<text x="253.0" y="36.63" text-anchor="end" class="lg">5 μM</text>
<line x1="212.0" x2="229.5" y1="43.50" y2="43.50" stroke="#0000ff" stroke-width="0.4"/>
<path d="M220.80,41.52L222.86,45.26L218.74,45.26Z" fill="#0000ff"/>
<text x="253.0" y="46.46" text-anchor="end" class="lg">9 μM</text>
<line x1="212.0" x2="229.5" y1="53.50" y2="53.50" stroke="#ff00ff" stroke-width="0.4"/>
<path d="M220.80,55.83L222.86,52.09L218.74,52.09Z" fill="#ff00ff"/>
<text x="253.0" y="56.29" text-anchor="end" class="lg">13 μM</text>
<line x1="212.0" x2="229.5" y1="63.50" y2="63.50" stroke="#008000" stroke-width="0.4"/>
<path d="M220.80,61.24L222.80,63.42L220.80,65.60L218.80,63.42Z" fill="#008000"/>
<text x="253.0" y="66.12" text-anchor="end" class="lg">17 μM</text>
<line x1="212.0" x2="229.5" y1="73.50" y2="73.50" stroke="#000080" stroke-width="0.4"/>
<path d="M218.56,73.25L222.30,71.19L222.30,75.31Z" fill="#000080"/>
<text x="253.0" y="75.95" text-anchor="end" class="lg">21 μM</text>
<line x1="212.0" x2="229.5" y1="83.50" y2="83.50" stroke="#000" stroke-width="0.5"/>
<text x="229.9" y="85.78" class="lg">Fitting Curves</text>
<path d="M58.0,17V201.2H291.7V17" fill="none" stroke="#000" stroke-width="2.0"/>
<path d="M58.0,201.40h-1.8M58.0,194.61h-1.8M58.0,188.88h-1.8M58.0,183.91h-1.8M58.0,179.52h-1.8M58.0,175.60h-3.2M58.0,149.80h-1.8M58.0,134.71h-1.8M58.0,124.00h-1.8M58.0,115.70h-1.8M58.0,108.91h-1.8M58.0,103.18h-1.8M58.0,98.21h-1.8M58.0,93.82h-1.8M58.0,89.90h-3.2M58.0,64.10h-1.8M58.0,49.01h-1.8M58.0,38.30h-1.8M58.0,30.00h-1.8M58.0,23.21h-1.8M58.0,17.48h-1.8M57.60,201.2v3.2M66.41,201.2v1.8M71.57,201.2v1.8M75.23,201.2v1.8M78.07,201.2v1.8M80.38,201.2v1.8M82.34,201.2v1.8M84.04,201.2v1.8M85.54,201.2v1.8M86.88,201.2v3.2M95.69,201.2v1.8M100.85,201.2v1.8M104.51,201.2v1.8M107.35,201.2v1.8M109.66,201.2v1.8M111.62,201.2v1.8M113.32,201.2v1.8M114.82,201.2v1.8M116.16,201.2v3.2M124.97,201.2v1.8M130.13,201.2v1.8M133.79,201.2v1.8M136.63,201.2v1.8M138.94,201.2v1.8M140.90,201.2v1.8M142.60,201.2v1.8M144.10,201.2v1.8M145.44,201.2v3.2M154.25,201.2v1.8M159.41,201.2v1.8M163.07,201.2v1.8M165.91,201.2v1.8M168.22,201.2v1.8M170.18,201.2v1.8M171.88,201.2v1.8M173.38,201.2v1.8M174.72,201.2v3.2M183.53,201.2v1.8M188.69,201.2v1.8M192.35,201.2v1.8M195.19,201.2v1.8M197.50,201.2v1.8M199.46,201.2v1.8M201.16,201.2v1.8M202.66,201.2v1.8M204.00,201.2v3.2M212.81,201.2v1.8M217.97,201.2v1.8M221.63,201.2v1.8M224.47,201.2v1.8M226.78,201.2v1.8M228.74,201.2v1.8M230.44,201.2v1.8M231.94,201.2v1.8M233.28,201.2v3.2M242.09,201.2v1.8M247.25,201.2v1.8M250.91,201.2v1.8M253.75,201.2v1.8M256.06,201.2v1.8M258.02,201.2v1.8M259.72,201.2v1.8M261.22,201.2v1.8M262.56,201.2v3.2M271.37,201.2v1.8M276.53,201.2v1.8M280.19,201.2v1.8M283.03,201.2v1.8M285.34,201.2v1.8M287.30,201.2v1.8M289.00,201.2v1.8M290.50,201.2v1.8M291.84,201.2v3.2M291.7,17.85h-2M291.7,38.20h-3.5M291.7,58.55h-2M291.7,78.90h-3.5M291.7,99.25h-2M291.7,119.60h-3.5M291.7,139.95h-2M291.7,160.30h-3.5M291.7,180.65h-2M291.7,201.00h-3.5" stroke="#000" stroke-width="1.4" fill="none"/>
<text x="51.7" y="93.30" text-anchor="end" class="tl">100</text>
<text x="51.7" y="179.00" text-anchor="end" class="tl">10</text>
<text x="57.60" y="214.10" text-anchor="middle" class="tx">0.01</text>
<text x="86.88" y="214.10" text-anchor="middle" class="tx">0.1</text>
<text x="116.16" y="214.10" text-anchor="middle" class="tx">1</text>
<text x="145.44" y="214.10" text-anchor="middle" class="tx">10</text>
<text x="174.72" y="214.10" text-anchor="middle" class="tx">100</text>
<text x="204.00" y="214.10" text-anchor="middle" class="tx">1000</text>
<text x="233.28" y="214.10" text-anchor="middle" class="tx">10000</text>
<text x="262.56" y="214.10" text-anchor="middle" class="tx">100000</text>
<text x="291.84" y="214.10" text-anchor="middle" class="tx">1000000</text>
<text x="296.3" y="41.50" class="tr">0</text>
<text x="296.3" y="82.20" class="tr">-20</text>
<text x="296.3" y="122.90" class="tr">-40</text>
<text x="296.3" y="163.60" class="tr">-60</text>
<text x="296.3" y="204.30" class="tr">-80</text>
<text x="175.25" y="229.5" text-anchor="middle" class="tf">log F, Hz</text>
<text transform="translate(32.6,175.0) rotate(-90)" class="ti"><tspan x="-0.3">log</tspan><tspan x="21.2" font-size="15.5">Z</tspan><tspan x="30.0" dy="1">mod,</tspan><tspan x="66.9" dy="-1">ohm</tspan><tspan x="100.2">cm</tspan><tspan x="117.6" dy="-6" font-size="13">-2</tspan></text>
<text transform="translate(322.5,109.7) rotate(-90)" text-anchor="middle" class="tz">Zph, deg</text>
<g clip-path="url(#p2c)"><polyline points="430.78,114.20 433.71,114.20 436.64,114.20 439.56,114.20 442.49,114.20 445.42,114.20 448.35,114.20 451.28,114.20 454.20,114.21 457.13,114.21 460.06,114.21 462.99,114.21 465.92,114.22 468.84,114.23 471.77,114.24 474.70,114.25 477.63,114.27 480.56,114.31 483.48,114.36 486.41,114.44 489.34,114.55 492.27,114.73 495.20,115.00 498.12,115.41 501.05,116.04 503.98,116.96 506.91,118.32 509.84,120.26 512.76,122.93 515.69,126.42 518.62,130.77 521.55,135.89 524.48,141.57 527.40,147.56 530.33,153.53 533.26,159.17 536.19,164.23 539.12,168.51 542.04,171.93 544.97,174.53 547.90,176.41 550.83,177.73 553.76,178.63 556.68,179.23 559.61,179.63 562.54,179.89 565.47,180.06 568.40,180.17 571.32,180.25 574.25,180.29 577.18,180.33 580.11,180.35 583.04,180.36 585.96,180.37 588.89,180.38 591.82,180.39 594.75,180.39 597.68,180.39 600.60,180.39 603.53,180.40" fill="none" stroke="#000000" stroke-width="0.5"/><rect x="429.43" y="112.85" width="2.70" height="2.70" fill="#000000"/><rect x="432.36" y="112.85" width="2.70" height="2.70" fill="#000000"/><rect x="435.29" y="112.85" width="2.70" height="2.70" fill="#000000"/><rect x="438.21" y="112.85" width="2.70" height="2.70" fill="#000000"/><rect x="441.14" y="112.85" width="2.70" height="2.70" fill="#000000"/><rect x="444.07" y="112.85" width="2.70" height="2.70" fill="#000000"/><rect x="447.00" y="112.85" width="2.70" height="2.70" fill="#000000"/><rect x="449.93" y="112.85" width="2.70" height="2.70" fill="#000000"/><rect x="452.85" y="112.86" width="2.70" height="2.70" fill="#000000"/><rect x="455.78" y="112.86" width="2.70" height="2.70" fill="#000000"/><rect x="458.71" y="112.86" width="2.70" height="2.70" fill="#000000"/><rect x="461.64" y="112.86" width="2.70" height="2.70" fill="#000000"/><rect x="464.57" y="112.87" width="2.70" height="2.70" fill="#000000"/><rect x="467.49" y="112.88" width="2.70" height="2.70" fill="#000000"/><rect x="470.42" y="112.89" width="2.70" height="2.70" fill="#000000"/><rect x="473.35" y="112.90" width="2.70" height="2.70" fill="#000000"/><rect x="476.28" y="112.92" width="2.70" height="2.70" fill="#000000"/><rect x="479.21" y="112.96" width="2.70" height="2.70" fill="#000000"/><rect x="482.13" y="113.01" width="2.70" height="2.70" fill="#000000"/><rect x="485.06" y="113.09" width="2.70" height="2.70" fill="#000000"/><rect x="487.99" y="113.20" width="2.70" height="2.70" fill="#000000"/><rect x="490.92" y="113.38" width="2.70" height="2.70" fill="#000000"/><rect x="493.85" y="113.65" width="2.70" height="2.70" fill="#000000"/><rect x="496.77" y="114.06" width="2.70" height="2.70" fill="#000000"/><rect x="499.70" y="114.69" width="2.70" height="2.70" fill="#000000"/><rect x="502.63" y="115.61" width="2.70" height="2.70" fill="#000000"/><rect x="505.56" y="116.97" width="2.70" height="2.70" fill="#000000"/><rect x="508.49" y="118.91" width="2.70" height="2.70" fill="#000000"/><rect x="511.41" y="121.58" width="2.70" height="2.70" fill="#000000"/><rect x="514.34" y="125.07" width="2.70" height="2.70" fill="#000000"/><rect x="517.27" y="129.42" width="2.70" height="2.70" fill="#000000"/><rect x="520.20" y="134.54" width="2.70" height="2.70" fill="#000000"/><rect x="523.13" y="140.22" width="2.70" height="2.70" fill="#000000"/><rect x="526.05" y="146.21" width="2.70" height="2.70" fill="#000000"/><rect x="528.98" y="152.18" width="2.70" height="2.70" fill="#000000"/><rect x="531.91" y="157.82" width="2.70" height="2.70" fill="#000000"/><rect x="534.84" y="162.88" width="2.70" height="2.70" fill="#000000"/><rect x="537.77" y="167.16" width="2.70" height="2.70" fill="#000000"/><rect x="540.69" y="170.58" width="2.70" height="2.70" fill="#000000"/><rect x="543.62" y="173.18" width="2.70" height="2.70" fill="#000000"/><rect x="546.55" y="175.06" width="2.70" height="2.70" fill="#000000"/><rect x="549.48" y="176.38" width="2.70" height="2.70" fill="#000000"/><rect x="552.41" y="177.28" width="2.70" height="2.70" fill="#000000"/><rect x="555.33" y="177.88" width="2.70" height="2.70" fill="#000000"/><rect x="558.26" y="178.28" width="2.70" height="2.70" fill="#000000"/><rect x="561.19" y="178.54" width="2.70" height="2.70" fill="#000000"/><rect x="564.12" y="178.71" width="2.70" height="2.70" fill="#000000"/><rect x="567.05" y="178.82" width="2.70" height="2.70" fill="#000000"/><rect x="569.97" y="178.90" width="2.70" height="2.70" fill="#000000"/><rect x="572.90" y="178.94" width="2.70" height="2.70" fill="#000000"/><rect x="575.83" y="178.98" width="2.70" height="2.70" fill="#000000"/><rect x="578.76" y="179.00" width="2.70" height="2.70" fill="#000000"/><rect x="581.69" y="179.01" width="2.70" height="2.70" fill="#000000"/><rect x="584.61" y="179.02" width="2.70" height="2.70" fill="#000000"/><rect x="587.54" y="179.03" width="2.70" height="2.70" fill="#000000"/><rect x="590.47" y="179.04" width="2.70" height="2.70" fill="#000000"/><rect x="593.40" y="179.04" width="2.70" height="2.70" fill="#000000"/><rect x="596.33" y="179.04" width="2.70" height="2.70" fill="#000000"/><rect x="599.25" y="179.04" width="2.70" height="2.70" fill="#000000"/><rect x="602.18" y="179.05" width="2.70" height="2.70" fill="#000000"/><polyline points="430.78,30.83 433.71,30.86 436.64,30.90 439.56,30.95 442.49,31.01 445.42,31.09 448.35,31.19 451.28,31.32 454.20,31.47 457.13,31.67 460.06,31.92 462.99,32.23 465.92,32.62 468.84,33.12 471.77,33.73 474.70,34.51 477.63,35.48 480.56,36.69 483.48,38.21 486.41,40.11 489.34,42.49 492.27,45.44 495.20,49.09 498.12,53.57 501.05,59.01 503.98,65.49 506.91,73.03 509.84,81.47 512.76,90.46 515.69,99.41 518.62,107.53 521.55,114.01 524.48,118.15 527.40,119.50 530.33,117.90 533.26,113.54 536.19,106.89 539.12,98.67 542.04,89.69 544.97,80.72 547.90,72.35 550.83,64.90 553.76,58.51 556.68,53.15 559.61,48.75 562.54,45.16 565.47,42.26 568.40,39.94 571.32,38.07 574.25,36.58 577.18,35.38 580.11,34.43 583.04,33.67 585.96,33.07 588.89,32.59 591.82,32.20 594.75,31.90 597.68,31.65 600.60,31.46 603.53,31.31" fill="none" stroke="#000000" stroke-width="0.5"/><rect x="429.43" y="29.48" width="2.70" height="2.70" fill="#000000"/><rect x="432.36" y="29.51" width="2.70" height="2.70" fill="#000000"/><rect x="435.29" y="29.55" width="2.70" height="2.70" fill="#000000"/><rect x="438.21" y="29.60" width="2.70" height="2.70" fill="#000000"/><rect x="441.14" y="29.66" width="2.70" height="2.70" fill="#000000"/><rect x="444.07" y="29.74" width="2.70" height="2.70" fill="#000000"/><rect x="447.00" y="29.84" width="2.70" height="2.70" fill="#000000"/><rect x="449.93" y="29.97" width="2.70" height="2.70" fill="#000000"/><rect x="452.85" y="30.12" width="2.70" height="2.70" fill="#000000"/><rect x="455.78" y="30.32" width="2.70" height="2.70" fill="#000000"/><rect x="458.71" y="30.57" width="2.70" height="2.70" fill="#000000"/><rect x="461.64" y="30.88" width="2.70" height="2.70" fill="#000000"/><rect x="464.57" y="31.27" width="2.70" height="2.70" fill="#000000"/><rect x="467.49" y="31.77" width="2.70" height="2.70" fill="#000000"/><rect x="470.42" y="32.38" width="2.70" height="2.70" fill="#000000"/><rect x="473.35" y="33.16" width="2.70" height="2.70" fill="#000000"/><rect x="476.28" y="34.13" width="2.70" height="2.70" fill="#000000"/><rect x="479.21" y="35.34" width="2.70" height="2.70" fill="#000000"/><rect x="482.13" y="36.86" width="2.70" height="2.70" fill="#000000"/><rect x="485.06" y="38.76" width="2.70" height="2.70" fill="#000000"/><rect x="487.99" y="41.14" width="2.70" height="2.70" fill="#000000"/><rect x="490.92" y="44.09" width="2.70" height="2.70" fill="#000000"/><rect x="493.85" y="47.74" width="2.70" height="2.70" fill="#000000"/><rect x="496.77" y="52.22" width="2.70" height="2.70" fill="#000000"/><rect x="499.70" y="57.66" width="2.70" height="2.70" fill="#000000"/><rect x="502.63" y="64.14" width="2.70" height="2.70" fill="#000000"/><rect x="505.56" y="71.68" width="2.70" height="2.70" fill="#000000"/><rect x="508.49" y="80.12" width="2.70" height="2.70" fill="#000000"/><rect x="511.41" y="89.11" width="2.70" height="2.70" fill="#000000"/><rect x="514.34" y="98.06" width="2.70" height="2.70" fill="#000000"/><rect x="517.27" y="106.18" width="2.70" height="2.70" fill="#000000"/><rect x="520.20" y="112.66" width="2.70" height="2.70" fill="#000000"/><rect x="523.13" y="116.80" width="2.70" height="2.70" fill="#000000"/><rect x="526.05" y="118.15" width="2.70" height="2.70" fill="#000000"/><rect x="528.98" y="116.55" width="2.70" height="2.70" fill="#000000"/><rect x="531.91" y="112.19" width="2.70" height="2.70" fill="#000000"/><rect x="534.84" y="105.54" width="2.70" height="2.70" fill="#000000"/><rect x="537.77" y="97.32" width="2.70" height="2.70" fill="#000000"/><rect x="540.69" y="88.34" width="2.70" height="2.70" fill="#000000"/><rect x="543.62" y="79.37" width="2.70" height="2.70" fill="#000000"/><rect x="546.55" y="71.00" width="2.70" height="2.70" fill="#000000"/><rect x="549.48" y="63.55" width="2.70" height="2.70" fill="#000000"/><rect x="552.41" y="57.16" width="2.70" height="2.70" fill="#000000"/><rect x="555.33" y="51.80" width="2.70" height="2.70" fill="#000000"/><rect x="558.26" y="47.40" width="2.70" height="2.70" fill="#000000"/><rect x="561.19" y="43.81" width="2.70" height="2.70" fill="#000000"/><rect x="564.12" y="40.91" width="2.70" height="2.70" fill="#000000"/><rect x="567.05" y="38.59" width="2.70" height="2.70" fill="#000000"/><rect x="569.97" y="36.72" width="2.70" height="2.70" fill="#000000"/><rect x="572.90" y="35.23" width="2.70" height="2.70" fill="#000000"/><rect x="575.83" y="34.03" width="2.70" height="2.70" fill="#000000"/><rect x="578.76" y="33.08" width="2.70" height="2.70" fill="#000000"/><rect x="581.69" y="32.32" width="2.70" height="2.70" fill="#000000"/><rect x="584.61" y="31.72" width="2.70" height="2.70" fill="#000000"/><rect x="587.54" y="31.24" width="2.70" height="2.70" fill="#000000"/><rect x="590.47" y="30.85" width="2.70" height="2.70" fill="#000000"/><rect x="593.40" y="30.55" width="2.70" height="2.70" fill="#000000"/><rect x="596.33" y="30.30" width="2.70" height="2.70" fill="#000000"/><rect x="599.25" y="30.11" width="2.70" height="2.70" fill="#000000"/><rect x="602.18" y="29.96" width="2.70" height="2.70" fill="#000000"/><polyline points="430.78,76.81 433.71,76.82 436.64,76.82 439.56,76.83 442.49,76.83 445.42,76.84 448.35,76.85 451.28,76.86 454.20,76.88 457.13,76.90 460.06,76.92 462.99,76.95 465.92,76.99 468.84,77.04 471.77,77.11 474.70,77.20 477.63,77.31 480.56,77.47 483.48,77.67 486.41,77.95 489.34,78.33 492.27,78.85 495.20,79.55 498.12,80.51 501.05,81.82 503.98,83.56 506.91,85.84 509.84,88.76 512.76,92.37 515.69,96.68 518.62,101.65 521.55,107.19 524.48,113.16 527.40,119.42 530.33,125.80 533.26,132.16 536.19,138.34 539.12,144.17 542.04,149.53 544.97,154.28 547.90,158.35 550.83,161.72 553.76,164.41 556.68,166.50 559.61,168.08 562.54,169.25 565.47,170.12 568.40,170.75 571.32,171.21 574.25,171.55 577.18,171.80 580.11,171.99 583.04,172.13 585.96,172.23 588.89,172.31 591.82,172.37 594.75,172.42 597.68,172.46 600.60,172.49 603.53,172.51" fill="none" stroke="#ff0000" stroke-width="0.5"/><circle cx="430.78" cy="76.81" r="1.50" fill="#ff0000"/><circle cx="433.71" cy="76.82" r="1.50" fill="#ff0000"/><circle cx="436.64" cy="76.82" r="1.50" fill="#ff0000"/><circle cx="439.56" cy="76.83" r="1.50" fill="#ff0000"/><circle cx="442.49" cy="76.83" r="1.50" fill="#ff0000"/><circle cx="445.42" cy="76.84" r="1.50" fill="#ff0000"/><circle cx="448.35" cy="76.85" r="1.50" fill="#ff0000"/><circle cx="451.28" cy="76.86" r="1.50" fill="#ff0000"/><circle cx="454.20" cy="76.88" r="1.50" fill="#ff0000"/><circle cx="457.13" cy="76.90" r="1.50" fill="#ff0000"/><circle cx="460.06" cy="76.92" r="1.50" fill="#ff0000"/><circle cx="462.99" cy="76.95" r="1.50" fill="#ff0000"/><circle cx="465.92" cy="76.99" r="1.50" fill="#ff0000"/><circle cx="468.84" cy="77.04" r="1.50" fill="#ff0000"/><circle cx="471.77" cy="77.11" r="1.50" fill="#ff0000"/><circle cx="474.70" cy="77.20" r="1.50" fill="#ff0000"/><circle cx="477.63" cy="77.31" r="1.50" fill="#ff0000"/><circle cx="480.56" cy="77.47" r="1.50" fill="#ff0000"/><circle cx="483.48" cy="77.67" r="1.50" fill="#ff0000"/><circle cx="486.41" cy="77.95" r="1.50" fill="#ff0000"/><circle cx="489.34" cy="78.33" r="1.50" fill="#ff0000"/><circle cx="492.27" cy="78.85" r="1.50" fill="#ff0000"/><circle cx="495.20" cy="79.55" r="1.50" fill="#ff0000"/><circle cx="498.12" cy="80.51" r="1.50" fill="#ff0000"/><circle cx="501.05" cy="81.82" r="1.50" fill="#ff0000"/><circle cx="503.98" cy="83.56" r="1.50" fill="#ff0000"/><circle cx="506.91" cy="85.84" r="1.50" fill="#ff0000"/><circle cx="509.84" cy="88.76" r="1.50" fill="#ff0000"/><circle cx="512.76" cy="92.37" r="1.50" fill="#ff0000"/><circle cx="515.69" cy="96.68" r="1.50" fill="#ff0000"/><circle cx="518.62" cy="101.65" r="1.50" fill="#ff0000"/><circle cx="521.55" cy="107.19" r="1.50" fill="#ff0000"/><circle cx="524.48" cy="113.16" r="1.50" fill="#ff0000"/><circle cx="527.40" cy="119.42" r="1.50" fill="#ff0000"/><circle cx="530.33" cy="125.80" r="1.50" fill="#ff0000"/><circle cx="533.26" cy="132.16" r="1.50" fill="#ff0000"/><circle cx="536.19" cy="138.34" r="1.50" fill="#ff0000"/><circle cx="539.12" cy="144.17" r="1.50" fill="#ff0000"/><circle cx="542.04" cy="149.53" r="1.50" fill="#ff0000"/><circle cx="544.97" cy="154.28" r="1.50" fill="#ff0000"/><circle cx="547.90" cy="158.35" r="1.50" fill="#ff0000"/><circle cx="550.83" cy="161.72" r="1.50" fill="#ff0000"/><circle cx="553.76" cy="164.41" r="1.50" fill="#ff0000"/><circle cx="556.68" cy="166.50" r="1.50" fill="#ff0000"/><circle cx="559.61" cy="168.08" r="1.50" fill="#ff0000"/><circle cx="562.54" cy="169.25" r="1.50" fill="#ff0000"/><circle cx="565.47" cy="170.12" r="1.50" fill="#ff0000"/><circle cx="568.40" cy="170.75" r="1.50" fill="#ff0000"/><circle cx="571.32" cy="171.21" r="1.50" fill="#ff0000"/><circle cx="574.25" cy="171.55" r="1.50" fill="#ff0000"/><circle cx="577.18" cy="171.80" r="1.50" fill="#ff0000"/><circle cx="580.11" cy="171.99" r="1.50" fill="#ff0000"/><circle cx="583.04" cy="172.13" r="1.50" fill="#ff0000"/><circle cx="585.96" cy="172.23" r="1.50" fill="#ff0000"/><circle cx="588.89" cy="172.31" r="1.50" fill="#ff0000"/><circle cx="591.82" cy="172.37" r="1.50" fill="#ff0000"/><circle cx="594.75" cy="172.42" r="1.50" fill="#ff0000"/><circle cx="597.68" cy="172.46" r="1.50" fill="#ff0000"/><circle cx="600.60" cy="172.49" r="1.50" fill="#ff0000"/><circle cx="603.53" cy="172.51" r="1.50" fill="#ff0000"/><polyline points="430.78,31.04 433.71,31.11 436.64,31.21 439.56,31.33 442.49,31.48 445.42,31.66 448.35,31.88 451.28,32.16 454.20,32.50 457.13,32.92 460.06,33.43 462.99,34.07 465.92,34.85 468.84,35.82 471.77,37.00 474.70,38.45 477.63,40.23 480.56,42.40 483.48,45.05 486.41,48.27 489.34,52.15 492.27,56.79 495.20,62.28 498.12,68.67 501.05,75.96 503.98,84.05 506.91,92.73 509.84,101.66 512.76,110.38 515.69,118.42 518.62,125.31 521.55,130.68 524.48,134.26 527.40,135.90 530.33,135.53 533.26,133.16 536.19,128.89 539.12,122.93 542.04,115.57 544.97,107.22 547.90,98.36 550.83,89.48 553.76,80.98 556.68,73.17 559.61,66.20 562.54,60.15 565.47,54.98 568.40,50.63 571.32,47.01 574.25,44.01 577.18,41.55 580.11,39.53 583.04,37.88 585.96,36.53 588.89,35.44 591.82,34.54 594.75,33.82 597.68,33.23 600.60,32.75 603.53,32.36" fill="none" stroke="#ff0000" stroke-width="0.5"/><circle cx="430.78" cy="31.04" r="1.50" fill="#ff0000"/><circle cx="433.71" cy="31.11" r="1.50" fill="#ff0000"/><circle cx="436.64" cy="31.21" r="1.50" fill="#ff0000"/><circle cx="439.56" cy="31.33" r="1.50" fill="#ff0000"/><circle cx="442.49" cy="31.48" r="1.50" fill="#ff0000"/><circle cx="445.42" cy="31.66" r="1.50" fill="#ff0000"/><circle cx="448.35" cy="31.88" r="1.50" fill="#ff0000"/><circle cx="451.28" cy="32.16" r="1.50" fill="#ff0000"/><circle cx="454.20" cy="32.50" r="1.50" fill="#ff0000"/><circle cx="457.13" cy="32.92" r="1.50" fill="#ff0000"/><circle cx="460.06" cy="33.43" r="1.50" fill="#ff0000"/><circle cx="462.99" cy="34.07" r="1.50" fill="#ff0000"/><circle cx="465.92" cy="34.85" r="1.50" fill="#ff0000"/><circle cx="468.84" cy="35.82" r="1.50" fill="#ff0000"/><circle cx="471.77" cy="37.00" r="1.50" fill="#ff0000"/><circle cx="474.70" cy="38.45" r="1.50" fill="#ff0000"/><circle cx="477.63" cy="40.23" r="1.50" fill="#ff0000"/><circle cx="480.56" cy="42.40" r="1.50" fill="#ff0000"/><circle cx="483.48" cy="45.05" r="1.50" fill="#ff0000"/><circle cx="486.41" cy="48.27" r="1.50" fill="#ff0000"/><circle cx="489.34" cy="52.15" r="1.50" fill="#ff0000"/><circle cx="492.27" cy="56.79" r="1.50" fill="#ff0000"/><circle cx="495.20" cy="62.28" r="1.50" fill="#ff0000"/><circle cx="498.12" cy="68.67" r="1.50" fill="#ff0000"/><circle cx="501.05" cy="75.96" r="1.50" fill="#ff0000"/><circle cx="503.98" cy="84.05" r="1.50" fill="#ff0000"/><circle cx="506.91" cy="92.73" r="1.50" fill="#ff0000"/><circle cx="509.84" cy="101.66" r="1.50" fill="#ff0000"/><circle cx="512.76" cy="110.38" r="1.50" fill="#ff0000"/><circle cx="515.69" cy="118.42" r="1.50" fill="#ff0000"/><circle cx="518.62" cy="125.31" r="1.50" fill="#ff0000"/><circle cx="521.55" cy="130.68" r="1.50" fill="#ff0000"/><circle cx="524.48" cy="134.26" r="1.50" fill="#ff0000"/><circle cx="527.40" cy="135.90" r="1.50" fill="#ff0000"/><circle cx="530.33" cy="135.53" r="1.50" fill="#ff0000"/><circle cx="533.26" cy="133.16" r="1.50" fill="#ff0000"/><circle cx="536.19" cy="128.89" r="1.50" fill="#ff0000"/><circle cx="539.12" cy="122.93" r="1.50" fill="#ff0000"/><circle cx="542.04" cy="115.57" r="1.50" fill="#ff0000"/><circle cx="544.97" cy="107.22" r="1.50" fill="#ff0000"/><circle cx="547.90" cy="98.36" r="1.50" fill="#ff0000"/><circle cx="550.83" cy="89.48" r="1.50" fill="#ff0000"/><circle cx="553.76" cy="80.98" r="1.50" fill="#ff0000"/><circle cx="556.68" cy="73.17" r="1.50" fill="#ff0000"/><circle cx="559.61" cy="66.20" r="1.50" fill="#ff0000"/><circle cx="562.54" cy="60.15" r="1.50" fill="#ff0000"/><circle cx="565.47" cy="54.98" r="1.50" fill="#ff0000"/><circle cx="568.40" cy="50.63" r="1.50" fill="#ff0000"/><circle cx="571.32" cy="47.01" r="1.50" fill="#ff0000"/><circle cx="574.25" cy="44.01" r="1.50" fill="#ff0000"/><circle cx="577.18" cy="41.55" r="1.50" fill="#ff0000"/><circle cx="580.11" cy="39.53" r="1.50" fill="#ff0000"/><circle cx="583.04" cy="37.88" r="1.50" fill="#ff0000"/><circle cx="585.96" cy="36.53" r="1.50" fill="#ff0000"/><circle cx="588.89" cy="35.44" r="1.50" fill="#ff0000"/><circle cx="591.82" cy="34.54" r="1.50" fill="#ff0000"/><circle cx="594.75" cy="33.82" r="1.50" fill="#ff0000"/><circle cx="597.68" cy="33.23" r="1.50" fill="#ff0000"/><circle cx="600.60" cy="32.75" r="1.50" fill="#ff0000"/><circle cx="603.53" cy="32.36" r="1.50" fill="#ff0000"/><polyline points="430.78,58.32 433.71,58.32 436.64,58.33 439.56,58.34 442.49,58.35 445.42,58.36 448.35,58.37 451.28,58.39 454.20,58.41 457.13,58.44 460.06,58.48 462.99,58.53 465.92,58.59 468.84,58.67 471.77,58.78 474.70,58.92 477.63,59.10 480.56,59.35 483.48,59.69 486.41,60.16 489.34,60.79 492.27,61.66 495.20,62.84 498.12,64.41 501.05,66.50 503.98,69.19 506.91,72.55 509.84,76.63 512.76,81.39 515.69,86.77 518.62,92.65 521.55,98.89 524.48,105.34 527.40,111.86 530.33,118.30 533.26,124.51 536.19,130.35 539.12,135.67 542.04,140.38 544.97,144.39 547.90,147.69 550.83,150.32 553.76,152.35 556.68,153.89 559.61,155.03 562.54,155.87 565.47,156.49 568.40,156.94 571.32,157.27 574.25,157.52 577.18,157.70 580.11,157.84 583.04,157.94 585.96,158.02 588.89,158.08 591.82,158.12 594.75,158.16 597.68,158.19 600.60,158.21 603.53,158.23" fill="none" stroke="#0000ff" stroke-width="0.5"/><path d="M430.78,56.28L432.65,59.68L428.91,59.68Z" fill="#0000ff"/><path d="M433.71,56.28L435.58,59.68L431.84,59.68Z" fill="#0000ff"/><path d="M436.64,56.29L438.51,59.69L434.77,59.69Z" fill="#0000ff"/><path d="M439.56,56.30L441.43,59.70L437.69,59.70Z" fill="#0000ff"/><path d="M442.49,56.31L444.36,59.71L440.62,59.71Z" fill="#0000ff"/><path d="M445.42,56.32L447.29,59.72L443.55,59.72Z" fill="#0000ff"/><path d="M448.35,56.33L450.22,59.73L446.48,59.73Z" fill="#0000ff"/><path d="M451.28,56.35L453.15,59.75L449.41,59.75Z" fill="#0000ff"/><path d="M454.20,56.37L456.07,59.77L452.33,59.77Z" fill="#0000ff"/><path d="M457.13,56.40L459.00,59.80L455.26,59.80Z" fill="#0000ff"/><path d="M460.06,56.44L461.93,59.84L458.19,59.84Z" fill="#0000ff"/><path d="M462.99,56.49L464.86,59.89L461.12,59.89Z" fill="#0000ff"/><path d="M465.92,56.55L467.79,59.95L464.05,59.95Z" fill="#0000ff"/><path d="M468.84,56.63L470.71,60.03L466.97,60.03Z" fill="#0000ff"/><path d="M471.77,56.74L473.64,60.14L469.90,60.14Z" fill="#0000ff"/><path d="M474.70,56.88L476.57,60.28L472.83,60.28Z" fill="#0000ff"/><path d="M477.63,57.06L479.50,60.46L475.76,60.46Z" fill="#0000ff"/><path d="M480.56,57.31L482.43,60.71L478.69,60.71Z" fill="#0000ff"/><path d="M483.48,57.65L485.35,61.05L481.61,61.05Z" fill="#0000ff"/><path d="M486.41,58.12L488.28,61.52L484.54,61.52Z" fill="#0000ff"/><path d="M489.34,58.75L491.21,62.15L487.47,62.15Z" fill="#0000ff"/><path d="M492.27,59.62L494.14,63.02L490.40,63.02Z" fill="#0000ff"/><path d="M495.20,60.80L497.07,64.20L493.33,64.20Z" fill="#0000ff"/><path d="M498.12,62.37L499.99,65.77L496.25,65.77Z" fill="#0000ff"/><path d="M501.05,64.46L502.92,67.86L499.18,67.86Z" fill="#0000ff"/><path d="M503.98,67.15L505.85,70.55L502.11,70.55Z" fill="#0000ff"/><path d="M506.91,70.51L508.78,73.91L505.04,73.91Z" fill="#0000ff"/><path d="M509.84,74.59L511.71,77.99L507.97,77.99Z" fill="#0000ff"/><path d="M512.76,79.35L514.63,82.75L510.89,82.75Z" fill="#0000ff"/><path d="M515.69,84.73L517.56,88.13L513.82,88.13Z" fill="#0000ff"/><path d="M518.62,90.61L520.49,94.01L516.75,94.01Z" fill="#0000ff"/><path d="M521.55,96.85L523.42,100.25L519.68,100.25Z" fill="#0000ff"/><path d="M524.48,103.30L526.35,106.70L522.61,106.70Z" fill="#0000ff"/><path d="M527.40,109.82L529.27,113.22L525.53,113.22Z" fill="#0000ff"/><path d="M530.33,116.26L532.20,119.66L528.46,119.66Z" fill="#0000ff"/><path d="M533.26,122.47L535.13,125.87L531.39,125.87Z" fill="#0000ff"/><path d="M536.19,128.31L538.06,131.71L534.32,131.71Z" fill="#0000ff"/><path d="M539.12,133.63L540.99,137.03L537.25,137.03Z" fill="#0000ff"/><path d="M542.04,138.34L543.91,141.74L540.17,141.74Z" fill="#0000ff"/><path d="M544.97,142.35L546.84,145.75L543.10,145.75Z" fill="#0000ff"/><path d="M547.90,145.65L549.77,149.05L546.03,149.05Z" fill="#0000ff"/><path d="M550.83,148.28L552.70,151.68L548.96,151.68Z" fill="#0000ff"/><path d="M553.76,150.31L555.63,153.71L551.89,153.71Z" fill="#0000ff"/><path d="M556.68,151.85L558.55,155.25L554.81,155.25Z" fill="#0000ff"/><path d="M559.61,152.99L561.48,156.39L557.74,156.39Z" fill="#0000ff"/><path d="M562.54,153.83L564.41,157.23L560.67,157.23Z" fill="#0000ff"/><path d="M565.47,154.45L567.34,157.85L563.60,157.85Z" fill="#0000ff"/><path d="M568.40,154.90L570.27,158.30L566.53,158.30Z" fill="#0000ff"/><path d="M571.32,155.23L573.19,158.63L569.45,158.63Z" fill="#0000ff"/><path d="M574.25,155.48L576.12,158.88L572.38,158.88Z" fill="#0000ff"/><path d="M577.18,155.66L579.05,159.06L575.31,159.06Z" fill="#0000ff"/><path d="M580.11,155.80L581.98,159.20L578.24,159.20Z" fill="#0000ff"/><path d="M583.04,155.90L584.91,159.30L581.17,159.30Z" fill="#0000ff"/><path d="M585.96,155.98L587.83,159.38L584.09,159.38Z" fill="#0000ff"/><path d="M588.89,156.04L590.76,159.44L587.02,159.44Z" fill="#0000ff"/><path d="M591.82,156.08L593.69,159.48L589.95,159.48Z" fill="#0000ff"/><path d="M594.75,156.12L596.62,159.52L592.88,159.52Z" fill="#0000ff"/><path d="M597.68,156.15L599.55,159.55L595.81,159.55Z" fill="#0000ff"/><path d="M600.60,156.17L602.47,159.57L598.73,159.57Z" fill="#0000ff"/><path d="M603.53,156.19L605.40,159.59L601.66,159.59Z" fill="#0000ff"/><polyline points="430.78,31.18 433.71,31.29 436.64,31.43 439.56,31.60 442.49,31.81 445.42,32.07 448.35,32.39 451.28,32.78 454.20,33.26 457.13,33.86 460.06,34.59 462.99,35.50 465.92,36.60 468.84,37.97 471.77,39.64 474.70,41.68 477.63,44.17 480.56,47.20 483.48,50.86 486.41,55.26 489.34,60.48 492.27,66.61 495.20,73.65 498.12,81.57 501.05,90.18 503.98,99.20 506.91,108.23 509.84,116.79 512.76,124.41 515.69,130.69 518.62,135.32 521.55,138.13 524.48,139.00 527.40,137.90 530.33,134.87 533.26,130.03 536.19,123.58 539.12,115.83 542.04,107.19 544.97,98.14 547.90,89.15 550.83,80.60 553.76,72.78 556.68,65.84 559.61,59.83 562.54,54.71 565.47,50.40 568.40,46.82 571.32,43.85 574.25,41.42 577.18,39.42 580.11,37.79 583.04,36.46 585.96,35.38 588.89,34.50 591.82,33.78 594.75,33.20 597.68,32.73 600.60,32.35 603.53,32.03" fill="none" stroke="#0000ff" stroke-width="0.5"/><path d="M430.78,29.14L432.65,32.54L428.91,32.54Z" fill="#0000ff"/><path d="M433.71,29.25L435.58,32.65L431.84,32.65Z" fill="#0000ff"/><path d="M436.64,29.39L438.51,32.79L434.77,32.79Z" fill="#0000ff"/><path d="M439.56,29.56L441.43,32.96L437.69,32.96Z" fill="#0000ff"/><path d="M442.49,29.77L444.36,33.17L440.62,33.17Z" fill="#0000ff"/><path d="M445.42,30.03L447.29,33.43L443.55,33.43Z" fill="#0000ff"/><path d="M448.35,30.35L450.22,33.75L446.48,33.75Z" fill="#0000ff"/><path d="M451.28,30.74L453.15,34.14L449.41,34.14Z" fill="#0000ff"/><path d="M454.20,31.22L456.07,34.62L452.33,34.62Z" fill="#0000ff"/><path d="M457.13,31.82L459.00,35.22L455.26,35.22Z" fill="#0000ff"/><path d="M460.06,32.55L461.93,35.95L458.19,35.95Z" fill="#0000ff"/><path d="M462.99,33.46L464.86,36.86L461.12,36.86Z" fill="#0000ff"/><path d="M465.92,34.56L467.79,37.96L464.05,37.96Z" fill="#0000ff"/><path d="M468.84,35.93L470.71,39.33L466.97,39.33Z" fill="#0000ff"/><path d="M471.77,37.60L473.64,41.00L469.90,41.00Z" fill="#0000ff"/><path d="M474.70,39.64L476.57,43.04L472.83,43.04Z" fill="#0000ff"/><path d="M477.63,42.13L479.50,45.53L475.76,45.53Z" fill="#0000ff"/><path d="M480.56,45.16L482.43,48.56L478.69,48.56Z" fill="#0000ff"/><path d="M483.48,48.82L485.35,52.22L481.61,52.22Z" fill="#0000ff"/><path d="M486.41,53.22L488.28,56.62L484.54,56.62Z" fill="#0000ff"/><path d="M489.34,58.44L491.21,61.84L487.47,61.84Z" fill="#0000ff"/><path d="M492.27,64.57L494.14,67.97L490.40,67.97Z" fill="#0000ff"/><path d="M495.20,71.61L497.07,75.01L493.33,75.01Z" fill="#0000ff"/><path d="M498.12,79.53L499.99,82.93L496.25,82.93Z" fill="#0000ff"/><path d="M501.05,88.14L502.92,91.54L499.18,91.54Z" fill="#0000ff"/><path d="M503.98,97.16L505.85,100.56L502.11,100.56Z" fill="#0000ff"/><path d="M506.91,106.19L508.78,109.59L505.04,109.59Z" fill="#0000ff"/><path d="M509.84,114.75L511.71,118.15L507.97,118.15Z" fill="#0000ff"/><path d="M512.76,122.37L514.63,125.77L510.89,125.77Z" fill="#0000ff"/><path d="M515.69,128.65L517.56,132.05L513.82,132.05Z" fill="#0000ff"/><path d="M518.62,133.28L520.49,136.68L516.75,136.68Z" fill="#0000ff"/><path d="M521.55,136.09L523.42,139.49L519.68,139.49Z" fill="#0000ff"/><path d="M524.48,136.96L526.35,140.36L522.61,140.36Z" fill="#0000ff"/><path d="M527.40,135.86L529.27,139.26L525.53,139.26Z" fill="#0000ff"/><path d="M530.33,132.83L532.20,136.23L528.46,136.23Z" fill="#0000ff"/><path d="M533.26,127.99L535.13,131.39L531.39,131.39Z" fill="#0000ff"/><path d="M536.19,121.54L538.06,124.94L534.32,124.94Z" fill="#0000ff"/><path d="M539.12,113.79L540.99,117.19L537.25,117.19Z" fill="#0000ff"/><path d="M542.04,105.15L543.91,108.55L540.17,108.55Z" fill="#0000ff"/><path d="M544.97,96.10L546.84,99.50L543.10,99.50Z" fill="#0000ff"/><path d="M547.90,87.11L549.77,90.51L546.03,90.51Z" fill="#0000ff"/><path d="M550.83,78.56L552.70,81.96L548.96,81.96Z" fill="#0000ff"/><path d="M553.76,70.74L555.63,74.14L551.89,74.14Z" fill="#0000ff"/><path d="M556.68,63.80L558.55,67.20L554.81,67.20Z" fill="#0000ff"/><path d="M559.61,57.79L561.48,61.19L557.74,61.19Z" fill="#0000ff"/><path d="M562.54,52.67L564.41,56.07L560.67,56.07Z" fill="#0000ff"/><path d="M565.47,48.36L567.34,51.76L563.60,51.76Z" fill="#0000ff"/><path d="M568.40,44.78L570.27,48.18L566.53,48.18Z" fill="#0000ff"/><path d="M571.32,41.81L573.19,45.21L569.45,45.21Z" fill="#0000ff"/><path d="M574.25,39.38L576.12,42.78L572.38,42.78Z" fill="#0000ff"/><path d="M577.18,37.38L579.05,40.78L575.31,40.78Z" fill="#0000ff"/><path d="M580.11,35.75L581.98,39.15L578.24,39.15Z" fill="#0000ff"/><path d="M583.04,34.42L584.91,37.82L581.17,37.82Z" fill="#0000ff"/><path d="M585.96,33.34L587.83,36.74L584.09,36.74Z" fill="#0000ff"/><path d="M588.89,32.46L590.76,35.86L587.02,35.86Z" fill="#0000ff"/><path d="M591.82,31.74L593.69,35.14L589.95,35.14Z" fill="#0000ff"/><path d="M594.75,31.16L596.62,34.56L592.88,34.56Z" fill="#0000ff"/><path d="M597.68,30.69L599.55,34.09L595.81,34.09Z" fill="#0000ff"/><path d="M600.60,30.31L602.47,33.71L598.73,33.71Z" fill="#0000ff"/><path d="M603.53,29.99L605.40,33.39L601.66,33.39Z" fill="#0000ff"/><polyline points="430.78,46.12 433.71,46.12 436.64,46.13 439.56,46.14 442.49,46.15 445.42,46.16 448.35,46.17 451.28,46.19 454.20,46.22 457.13,46.25 460.06,46.29 462.99,46.34 465.92,46.40 468.84,46.49 471.77,46.61 474.70,46.77 477.63,46.98 480.56,47.27 483.48,47.66 486.41,48.21 489.34,48.96 492.27,50.00 495.20,51.41 498.12,53.31 501.05,55.80 503.98,58.98 506.91,62.92 509.84,67.61 512.76,73.01 515.69,79.03 518.62,85.55 521.55,92.44 524.48,99.59 527.40,106.89 530.33,114.25 533.26,121.58 536.19,128.79 539.12,135.77 542.04,142.42 544.97,148.60 547.90,154.20 550.83,159.12 553.76,163.29 556.68,166.70 559.61,169.40 562.54,171.46 565.47,173.01 568.40,174.15 571.32,174.98 574.25,175.59 577.18,176.03 580.11,176.34 583.04,176.58 585.96,176.75 588.89,176.88 591.82,176.97 594.75,177.04 597.68,177.10 600.60,177.14 603.53,177.18" fill="none" stroke="#ff00ff" stroke-width="0.5"/><path d="M430.78,48.16L432.65,44.76L428.91,44.76Z" fill="#ff00ff"/><path d="M433.71,48.16L435.58,44.76L431.84,44.76Z" fill="#ff00ff"/><path d="M436.64,48.17L438.51,44.77L434.77,44.77Z" fill="#ff00ff"/><path d="M439.56,48.18L441.43,44.78L437.69,44.78Z" fill="#ff00ff"/><path d="M442.49,48.19L444.36,44.79L440.62,44.79Z" fill="#ff00ff"/><path d="M445.42,48.20L447.29,44.80L443.55,44.80Z" fill="#ff00ff"/><path d="M448.35,48.21L450.22,44.81L446.48,44.81Z" fill="#ff00ff"/><path d="M451.28,48.23L453.15,44.83L449.41,44.83Z" fill="#ff00ff"/><path d="M454.20,48.26L456.07,44.86L452.33,44.86Z" fill="#ff00ff"/><path d="M457.13,48.29L459.00,44.89L455.26,44.89Z" fill="#ff00ff"/><path d="M460.06,48.33L461.93,44.93L458.19,44.93Z" fill="#ff00ff"/><path d="M462.99,48.38L464.86,44.98L461.12,44.98Z" fill="#ff00ff"/><path d="M465.92,48.44L467.79,45.04L464.05,45.04Z" fill="#ff00ff"/><path d="M468.84,48.53L470.71,45.13L466.97,45.13Z" fill="#ff00ff"/><path d="M471.77,48.65L473.64,45.25L469.90,45.25Z" fill="#ff00ff"/><path d="M474.70,48.81L476.57,45.41L472.83,45.41Z" fill="#ff00ff"/><path d="M477.63,49.02L479.50,45.62L475.76,45.62Z" fill="#ff00ff"/><path d="M480.56,49.31L482.43,45.91L478.69,45.91Z" fill="#ff00ff"/><path d="M483.48,49.70L485.35,46.30L481.61,46.30Z" fill="#ff00ff"/><path d="M486.41,50.25L488.28,46.85L484.54,46.85Z" fill="#ff00ff"/><path d="M489.34,51.00L491.21,47.60L487.47,47.60Z" fill="#ff00ff"/><path d="M492.27,52.04L494.14,48.64L490.40,48.64Z" fill="#ff00ff"/><path d="M495.20,53.45L497.07,50.05L493.33,50.05Z" fill="#ff00ff"/><path d="M498.12,55.35L499.99,51.95L496.25,51.95Z" fill="#ff00ff"/><path d="M501.05,57.84L502.92,54.44L499.18,54.44Z" fill="#ff00ff"/><path d="M503.98,61.02L505.85,57.62L502.11,57.62Z" fill="#ff00ff"/><path d="M506.91,64.96L508.78,61.56L505.04,61.56Z" fill="#ff00ff"/><path d="M509.84,69.65L511.71,66.25L507.97,66.25Z" fill="#ff00ff"/><path d="M512.76,75.05L514.63,71.65L510.89,71.65Z" fill="#ff00ff"/><path d="M515.69,81.07L517.56,77.67L513.82,77.67Z" fill="#ff00ff"/><path d="M518.62,87.59L520.49,84.19L516.75,84.19Z" fill="#ff00ff"/><path d="M521.55,94.48L523.42,91.08L519.68,91.08Z" fill="#ff00ff"/><path d="M524.48,101.63L526.35,98.23L522.61,98.23Z" fill="#ff00ff"/><path d="M527.40,108.93L529.27,105.53L525.53,105.53Z" fill="#ff00ff"/><path d="M530.33,116.29L532.20,112.89L528.46,112.89Z" fill="#ff00ff"/><path d="M533.26,123.62L535.13,120.22L531.39,120.22Z" fill="#ff00ff"/><path d="M536.19,130.83L538.06,127.43L534.32,127.43Z" fill="#ff00ff"/><path d="M539.12,137.81L540.99,134.41L537.25,134.41Z" fill="#ff00ff"/><path d="M542.04,144.46L543.91,141.06L540.17,141.06Z" fill="#ff00ff"/><path d="M544.97,150.64L546.84,147.24L543.10,147.24Z" fill="#ff00ff"/><path d="M547.90,156.24L549.77,152.84L546.03,152.84Z" fill="#ff00ff"/><path d="M550.83,161.16L552.70,157.76L548.96,157.76Z" fill="#ff00ff"/><path d="M553.76,165.33L555.63,161.93L551.89,161.93Z" fill="#ff00ff"/><path d="M556.68,168.74L558.55,165.34L554.81,165.34Z" fill="#ff00ff"/><path d="M559.61,171.44L561.48,168.04L557.74,168.04Z" fill="#ff00ff"/><path d="M562.54,173.50L564.41,170.10L560.67,170.10Z" fill="#ff00ff"/><path d="M565.47,175.05L567.34,171.65L563.60,171.65Z" fill="#ff00ff"/><path d="M568.40,176.19L570.27,172.79L566.53,172.79Z" fill="#ff00ff"/><path d="M571.32,177.02L573.19,173.62L569.45,173.62Z" fill="#ff00ff"/><path d="M574.25,177.63L576.12,174.23L572.38,174.23Z" fill="#ff00ff"/><path d="M577.18,178.07L579.05,174.67L575.31,174.67Z" fill="#ff00ff"/><path d="M580.11,178.38L581.98,174.98L578.24,174.98Z" fill="#ff00ff"/><path d="M583.04,178.62L584.91,175.22L581.17,175.22Z" fill="#ff00ff"/><path d="M585.96,178.79L587.83,175.39L584.09,175.39Z" fill="#ff00ff"/><path d="M588.89,178.92L590.76,175.52L587.02,175.52Z" fill="#ff00ff"/><path d="M591.82,179.01L593.69,175.61L589.95,175.61Z" fill="#ff00ff"/><path d="M594.75,179.08L596.62,175.68L592.88,175.68Z" fill="#ff00ff"/><path d="M597.68,179.14L599.55,175.74L595.81,175.74Z" fill="#ff00ff"/><path d="M600.60,179.18L602.47,175.78L598.73,175.78Z" fill="#ff00ff"/><path d="M603.53,179.22L605.40,175.82L601.66,175.82Z" fill="#ff00ff"/><polyline points="430.78,31.24 433.71,31.37 436.64,31.52 439.56,31.72 442.49,31.96 445.42,32.26 448.35,32.62 451.28,33.08 454.20,33.64 457.13,34.33 460.06,35.18 462.99,36.24 465.92,37.54 468.84,39.13 471.77,41.10 474.70,43.50 477.63,46.44 480.56,50.02 483.48,54.35 486.41,59.55 489.34,65.71 492.27,72.92 495.20,81.15 498.12,90.33 501.05,100.21 503.98,110.45 506.91,120.58 509.84,130.15 512.76,138.74 515.69,146.04 518.62,151.86 521.55,156.11 524.48,158.75 527.40,159.78 530.33,159.21 533.26,157.02 536.19,153.22 539.12,147.84 542.04,140.94 544.97,132.69 547.90,123.36 550.83,113.34 553.76,103.08 556.68,93.06 559.61,83.65 562.54,75.14 565.47,67.64 568.40,61.19 571.32,55.73 574.25,51.16 577.18,47.38 580.11,44.27 583.04,41.73 585.96,39.65 588.89,37.95 591.82,36.58 594.75,35.46 597.68,34.55 600.60,33.82 603.53,33.22" fill="none" stroke="#ff00ff" stroke-width="0.5"/><path d="M430.78,33.28L432.65,29.88L428.91,29.88Z" fill="#ff00ff"/><path d="M433.71,33.41L435.58,30.01L431.84,30.01Z" fill="#ff00ff"/><path d="M436.64,33.56L438.51,30.16L434.77,30.16Z" fill="#ff00ff"/><path d="M439.56,33.76L441.43,30.36L437.69,30.36Z" fill="#ff00ff"/><path d="M442.49,34.00L444.36,30.60L440.62,30.60Z" fill="#ff00ff"/><path d="M445.42,34.30L447.29,30.90L443.55,30.90Z" fill="#ff00ff"/><path d="M448.35,34.66L450.22,31.26L446.48,31.26Z" fill="#ff00ff"/><path d="M451.28,35.12L453.15,31.72L449.41,31.72Z" fill="#ff00ff"/><path d="M454.20,35.68L456.07,32.28L452.33,32.28Z" fill="#ff00ff"/><path d="M457.13,36.37L459.00,32.97L455.26,32.97Z" fill="#ff00ff"/><path d="M460.06,37.22L461.93,33.82L458.19,33.82Z" fill="#ff00ff"/><path d="M462.99,38.28L464.86,34.88L461.12,34.88Z" fill="#ff00ff"/><path d="M465.92,39.58L467.79,36.18L464.05,36.18Z" fill="#ff00ff"/><path d="M468.84,41.17L470.71,37.77L466.97,37.77Z" fill="#ff00ff"/><path d="M471.77,43.14L473.64,39.74L469.90,39.74Z" fill="#ff00ff"/><path d="M474.70,45.54L476.57,42.14L472.83,42.14Z" fill="#ff00ff"/><path d="M477.63,48.48L479.50,45.08L475.76,45.08Z" fill="#ff00ff"/><path d="M480.56,52.06L482.43,48.66L478.69,48.66Z" fill="#ff00ff"/><path d="M483.48,56.39L485.35,52.99L481.61,52.99Z" fill="#ff00ff"/><path d="M486.41,61.59L488.28,58.19L484.54,58.19Z" fill="#ff00ff"/><path d="M489.34,67.75L491.21,64.35L487.47,64.35Z" fill="#ff00ff"/><path d="M492.27,74.96L494.14,71.56L490.40,71.56Z" fill="#ff00ff"/><path d="M495.20,83.19L497.07,79.79L493.33,79.79Z" fill="#ff00ff"/><path d="M498.12,92.37L499.99,88.97L496.25,88.97Z" fill="#ff00ff"/><path d="M501.05,102.25L502.92,98.85L499.18,98.85Z" fill="#ff00ff"/><path d="M503.98,112.49L505.85,109.09L502.11,109.09Z" fill="#ff00ff"/><path d="M506.91,122.62L508.78,119.22L505.04,119.22Z" fill="#ff00ff"/><path d="M509.84,132.19L511.71,128.79L507.97,128.79Z" fill="#ff00ff"/><path d="M512.76,140.78L514.63,137.38L510.89,137.38Z" fill="#ff00ff"/><path d="M515.69,148.08L517.56,144.68L513.82,144.68Z" fill="#ff00ff"/><path d="M518.62,153.90L520.49,150.50L516.75,150.50Z" fill="#ff00ff"/><path d="M521.55,158.15L523.42,154.75L519.68,154.75Z" fill="#ff00ff"/><path d="M524.48,160.79L526.35,157.39L522.61,157.39Z" fill="#ff00ff"/><path d="M527.40,161.82L529.27,158.42L525.53,158.42Z" fill="#ff00ff"/><path d="M530.33,161.25L532.20,157.85L528.46,157.85Z" fill="#ff00ff"/><path d="M533.26,159.06L535.13,155.66L531.39,155.66Z" fill="#ff00ff"/><path d="M536.19,155.26L538.06,151.86L534.32,151.86Z" fill="#ff00ff"/><path d="M539.12,149.88L540.99,146.48L537.25,146.48Z" fill="#ff00ff"/><path d="M542.04,142.98L543.91,139.58L540.17,139.58Z" fill="#ff00ff"/><path d="M544.97,134.73L546.84,131.33L543.10,131.33Z" fill="#ff00ff"/><path d="M547.90,125.40L549.77,122.00L546.03,122.00Z" fill="#ff00ff"/><path d="M550.83,115.38L552.70,111.98L548.96,111.98Z" fill="#ff00ff"/><path d="M553.76,105.12L555.63,101.72L551.89,101.72Z" fill="#ff00ff"/><path d="M556.68,95.10L558.55,91.70L554.81,91.70Z" fill="#ff00ff"/><path d="M559.61,85.69L561.48,82.29L557.74,82.29Z" fill="#ff00ff"/><path d="M562.54,77.18L564.41,73.78L560.67,73.78Z" fill="#ff00ff"/><path d="M565.47,69.68L567.34,66.28L563.60,66.28Z" fill="#ff00ff"/><path d="M568.40,63.23L570.27,59.83L566.53,59.83Z" fill="#ff00ff"/><path d="M571.32,57.77L573.19,54.37L569.45,54.37Z" fill="#ff00ff"/><path d="M574.25,53.20L576.12,49.80L572.38,49.80Z" fill="#ff00ff"/><path d="M577.18,49.42L579.05,46.02L575.31,46.02Z" fill="#ff00ff"/><path d="M580.11,46.31L581.98,42.91L578.24,42.91Z" fill="#ff00ff"/><path d="M583.04,43.77L584.91,40.37L581.17,40.37Z" fill="#ff00ff"/><path d="M585.96,41.69L587.83,38.29L584.09,38.29Z" fill="#ff00ff"/><path d="M588.89,39.99L590.76,36.59L587.02,36.59Z" fill="#ff00ff"/><path d="M591.82,38.62L593.69,35.22L589.95,35.22Z" fill="#ff00ff"/><path d="M594.75,37.50L596.62,34.10L592.88,34.10Z" fill="#ff00ff"/><path d="M597.68,36.59L599.55,33.19L595.81,33.19Z" fill="#ff00ff"/><path d="M600.60,35.86L602.47,32.46L598.73,32.46Z" fill="#ff00ff"/><path d="M603.53,35.26L605.40,31.86L601.66,31.86Z" fill="#ff00ff"/><polyline points="430.78,39.72 433.71,39.73 436.64,39.74 439.56,39.75 442.49,39.76 445.42,39.77 448.35,39.79 451.28,39.82 454.20,39.85 457.13,39.89 460.06,39.94 462.99,40.01 465.92,40.10 468.84,40.22 471.77,40.38 474.70,40.59 477.63,40.89 480.56,41.29 483.48,41.85 486.41,42.62 489.34,43.68 492.27,45.12 495.20,47.06 498.12,49.60 501.05,52.83 503.98,56.83 506.91,61.59 509.84,67.06 512.76,73.15 515.69,79.74 518.62,86.71 521.55,93.95 524.48,101.38 527.40,108.89 530.33,116.43 533.26,123.92 536.19,131.29 539.12,138.43 542.04,145.26 544.97,151.67 547.90,157.52 550.83,162.71 553.76,167.17 556.68,170.86 559.61,173.80 562.54,176.09 565.47,177.81 568.40,179.08 571.32,180.02 574.25,180.69 577.18,181.18 580.11,181.54 583.04,181.80 585.96,181.99 588.89,182.13 591.82,182.24 594.75,182.32 597.68,182.38 600.60,182.43 603.53,182.46" fill="none" stroke="#008000" stroke-width="0.5"/><path d="M430.78,37.74L432.60,39.72L430.78,41.70L428.97,39.72Z" fill="#008000"/><path d="M433.71,37.75L435.52,39.73L433.71,41.71L431.89,39.73Z" fill="#008000"/><path d="M436.64,37.76L438.45,39.74L436.64,41.72L434.82,39.74Z" fill="#008000"/><path d="M439.56,37.77L441.38,39.75L439.56,41.73L437.75,39.75Z" fill="#008000"/><path d="M442.49,37.78L444.31,39.76L442.49,41.74L440.68,39.76Z" fill="#008000"/><path d="M445.42,37.79L447.24,39.77L445.42,41.75L443.61,39.77Z" fill="#008000"/><path d="M448.35,37.81L450.16,39.79L448.35,41.77L446.53,39.79Z" fill="#008000"/><path d="M451.28,37.84L453.09,39.82L451.28,41.80L449.46,39.82Z" fill="#008000"/><path d="M454.20,37.87L456.02,39.85L454.20,41.83L452.39,39.85Z" fill="#008000"/><path d="M457.13,37.91L458.95,39.89L457.13,41.87L455.32,39.89Z" fill="#008000"/><path d="M460.06,37.96L461.88,39.94L460.06,41.92L458.25,39.94Z" fill="#008000"/><path d="M462.99,38.03L464.80,40.01L462.99,41.99L461.17,40.01Z" fill="#008000"/><path d="M465.92,38.12L467.73,40.10L465.92,42.08L464.10,40.10Z" fill="#008000"/><path d="M468.84,38.24L470.66,40.22L468.84,42.20L467.03,40.22Z" fill="#008000"/><path d="M471.77,38.40L473.59,40.38L471.77,42.36L469.96,40.38Z" fill="#008000"/><path d="M474.70,38.61L476.51,40.59L474.70,42.57L472.88,40.59Z" fill="#008000"/><path d="M477.63,38.91L479.44,40.89L477.63,42.87L475.81,40.89Z" fill="#008000"/><path d="M480.56,39.31L482.37,41.29L480.56,43.27L478.74,41.29Z" fill="#008000"/><path d="M483.48,39.87L485.30,41.85L483.48,43.83L481.67,41.85Z" fill="#008000"/><path d="M486.41,40.64L488.23,42.62L486.41,44.60L484.60,42.62Z" fill="#008000"/><path d="M489.34,41.70L491.15,43.68L489.34,45.66L487.52,43.68Z" fill="#008000"/><path d="M492.27,43.14L494.08,45.12L492.27,47.10L490.45,45.12Z" fill="#008000"/><path d="M495.20,45.08L497.01,47.06L495.20,49.04L493.38,47.06Z" fill="#008000"/><path d="M498.12,47.62L499.94,49.60L498.12,51.58L496.31,49.60Z" fill="#008000"/><path d="M501.05,50.85L502.87,52.83L501.05,54.81L499.24,52.83Z" fill="#008000"/><path d="M503.98,54.85L505.80,56.83L503.98,58.81L502.17,56.83Z" fill="#008000"/><path d="M506.91,59.61L508.72,61.59L506.91,63.57L505.09,61.59Z" fill="#008000"/><path d="M509.84,65.08L511.65,67.06L509.84,69.04L508.02,67.06Z" fill="#008000"/><path d="M512.76,71.17L514.58,73.15L512.76,75.13L510.95,73.15Z" fill="#008000"/><path d="M515.69,77.76L517.51,79.74L515.69,81.72L513.88,79.74Z" fill="#008000"/><path d="M518.62,84.73L520.43,86.71L518.62,88.69L516.80,86.71Z" fill="#008000"/><path d="M521.55,91.97L523.36,93.95L521.55,95.93L519.73,93.95Z" fill="#008000"/><path d="M524.48,99.40L526.29,101.38L524.48,103.36L522.66,101.38Z" fill="#008000"/><path d="M527.40,106.91L529.22,108.89L527.40,110.87L525.59,108.89Z" fill="#008000"/><path d="M530.33,114.45L532.15,116.43L530.33,118.41L528.52,116.43Z" fill="#008000"/><path d="M533.26,121.94L535.08,123.92L533.26,125.90L531.44,123.92Z" fill="#008000"/><path d="M536.19,129.31L538.00,131.29L536.19,133.27L534.37,131.29Z" fill="#008000"/><path d="M539.12,136.45L540.93,138.43L539.12,140.41L537.30,138.43Z" fill="#008000"/><path d="M542.04,143.28L543.86,145.26L542.04,147.24L540.23,145.26Z" fill="#008000"/><path d="M544.97,149.69L546.79,151.67L544.97,153.65L543.16,151.67Z" fill="#008000"/><path d="M547.90,155.54L549.72,157.52L547.90,159.50L546.08,157.52Z" fill="#008000"/><path d="M550.83,160.73L552.64,162.71L550.83,164.69L549.01,162.71Z" fill="#008000"/><path d="M553.76,165.19L555.57,167.17L553.76,169.15L551.94,167.17Z" fill="#008000"/><path d="M556.68,168.88L558.50,170.86L556.68,172.84L554.87,170.86Z" fill="#008000"/><path d="M559.61,171.82L561.43,173.80L559.61,175.78L557.80,173.80Z" fill="#008000"/><path d="M562.54,174.11L564.36,176.09L562.54,178.07L560.72,176.09Z" fill="#008000"/><path d="M565.47,175.83L567.28,177.81L565.47,179.79L563.65,177.81Z" fill="#008000"/><path d="M568.40,177.10L570.21,179.08L568.40,181.06L566.58,179.08Z" fill="#008000"/><path d="M571.32,178.04L573.14,180.02L571.32,182.00L569.51,180.02Z" fill="#008000"/><path d="M574.25,178.71L576.07,180.69L574.25,182.67L572.44,180.69Z" fill="#008000"/><path d="M577.18,179.20L579.00,181.18L577.18,183.16L575.36,181.18Z" fill="#008000"/><path d="M580.11,179.56L581.92,181.54L580.11,183.52L578.29,181.54Z" fill="#008000"/><path d="M583.04,179.82L584.85,181.80L583.04,183.78L581.22,181.80Z" fill="#008000"/><path d="M585.96,180.01L587.78,181.99L585.96,183.97L584.15,181.99Z" fill="#008000"/><path d="M588.89,180.15L590.71,182.13L588.89,184.11L587.08,182.13Z" fill="#008000"/><path d="M591.82,180.26L593.63,182.24L591.82,184.22L590.00,182.24Z" fill="#008000"/><path d="M594.75,180.34L596.56,182.32L594.75,184.30L592.93,182.32Z" fill="#008000"/><path d="M597.68,180.40L599.49,182.38L597.68,184.36L595.86,182.38Z" fill="#008000"/><path d="M600.60,180.45L602.42,182.43L600.60,184.41L598.79,182.43Z" fill="#008000"/><path d="M603.53,180.48L605.35,182.46L603.53,184.44L601.72,182.46Z" fill="#008000"/><polyline points="430.78,31.38 433.71,31.54 436.64,31.74 439.56,31.98 442.49,32.29 445.42,32.66 448.35,33.13 451.28,33.70 454.20,34.41 457.13,35.28 460.06,36.35 462.99,37.68 465.92,39.31 468.84,41.32 471.77,43.78 474.70,46.78 477.63,50.44 480.56,54.86 483.48,60.17 486.41,66.47 489.34,73.82 492.27,82.23 495.20,91.59 498.12,101.68 501.05,112.12 503.98,122.48 506.91,132.30 509.84,141.18 512.76,148.83 515.69,155.09 518.62,159.88 521.55,163.20 524.48,165.05 527.40,165.47 530.33,164.44 533.26,161.96 536.19,158.02 539.12,152.59 542.04,145.73 544.97,137.52 547.90,128.20 550.83,118.10 553.76,107.65 556.68,97.31 559.61,87.49 562.54,78.52 565.47,70.55 568.40,63.66 571.32,57.79 574.25,52.87 577.18,48.79 580.11,45.42 583.04,42.67 585.96,40.41 588.89,38.57 591.82,37.08 594.75,35.87 597.68,34.88 600.60,34.09 603.53,33.44" fill="none" stroke="#008000" stroke-width="0.5"/><path d="M430.78,29.40L432.60,31.38L430.78,33.36L428.97,31.38Z" fill="#008000"/><path d="M433.71,29.56L435.52,31.54L433.71,33.52L431.89,31.54Z" fill="#008000"/><path d="M436.64,29.76L438.45,31.74L436.64,33.72L434.82,31.74Z" fill="#008000"/><path d="M439.56,30.00L441.38,31.98L439.56,33.96L437.75,31.98Z" fill="#008000"/><path d="M442.49,30.31L444.31,32.29L442.49,34.27L440.68,32.29Z" fill="#008000"/><path d="M445.42,30.68L447.24,32.66L445.42,34.64L443.61,32.66Z" fill="#008000"/><path d="M448.35,31.15L450.16,33.13L448.35,35.11L446.53,33.13Z" fill="#008000"/><path d="M451.28,31.72L453.09,33.70L451.28,35.68L449.46,33.70Z" fill="#008000"/><path d="M454.20,32.43L456.02,34.41L454.20,36.39L452.39,34.41Z" fill="#008000"/><path d="M457.13,33.30L458.95,35.28L457.13,37.26L455.32,35.28Z" fill="#008000"/><path d="M460.06,34.37L461.88,36.35L460.06,38.33L458.25,36.35Z" fill="#008000"/><path d="M462.99,35.70L464.80,37.68L462.99,39.66L461.17,37.68Z" fill="#008000"/><path d="M465.92,37.33L467.73,39.31L465.92,41.29L464.10,39.31Z" fill="#008000"/><path d="M468.84,39.34L470.66,41.32L468.84,43.30L467.03,41.32Z" fill="#008000"/><path d="M471.77,41.80L473.59,43.78L471.77,45.76L469.96,43.78Z" fill="#008000"/><path d="M474.70,44.80L476.51,46.78L474.70,48.76L472.88,46.78Z" fill="#008000"/><path d="M477.63,48.46L479.44,50.44L477.63,52.42L475.81,50.44Z" fill="#008000"/><path d="M480.56,52.88L482.37,54.86L480.56,56.84L478.74,54.86Z" fill="#008000"/><path d="M483.48,58.19L485.30,60.17L483.48,62.15L481.67,60.17Z" fill="#008000"/><path d="M486.41,64.49L488.23,66.47L486.41,68.45L484.60,66.47Z" fill="#008000"/><path d="M489.34,71.84L491.15,73.82L489.34,75.80L487.52,73.82Z" fill="#008000"/><path d="M492.27,80.25L494.08,82.23L492.27,84.21L490.45,82.23Z" fill="#008000"/><path d="M495.20,89.61L497.01,91.59L495.20,93.57L493.38,91.59Z" fill="#008000"/><path d="M498.12,99.70L499.94,101.68L498.12,103.66L496.31,101.68Z" fill="#008000"/><path d="M501.05,110.14L502.87,112.12L501.05,114.10L499.24,112.12Z" fill="#008000"/><path d="M503.98,120.50L505.80,122.48L503.98,124.46L502.17,122.48Z" fill="#008000"/><path d="M506.91,130.32L508.72,132.30L506.91,134.28L505.09,132.30Z" fill="#008000"/><path d="M509.84,139.20L511.65,141.18L509.84,143.16L508.02,141.18Z" fill="#008000"/><path d="M512.76,146.85L514.58,148.83L512.76,150.81L510.95,148.83Z" fill="#008000"/><path d="M515.69,153.11L517.51,155.09L515.69,157.07L513.88,155.09Z" fill="#008000"/><path d="M518.62,157.90L520.43,159.88L518.62,161.86L516.80,159.88Z" fill="#008000"/><path d="M521.55,161.22L523.36,163.20L521.55,165.18L519.73,163.20Z" fill="#008000"/><path d="M524.48,163.07L526.29,165.05L524.48,167.03L522.66,165.05Z" fill="#008000"/><path d="M527.40,163.49L529.22,165.47L527.40,167.45L525.59,165.47Z" fill="#008000"/><path d="M530.33,162.46L532.15,164.44L530.33,166.42L528.52,164.44Z" fill="#008000"/><path d="M533.26,159.98L535.08,161.96L533.26,163.94L531.44,161.96Z" fill="#008000"/><path d="M536.19,156.04L538.00,158.02L536.19,160.00L534.37,158.02Z" fill="#008000"/><path d="M539.12,150.61L540.93,152.59L539.12,154.57L537.30,152.59Z" fill="#008000"/><path d="M542.04,143.75L543.86,145.73L542.04,147.71L540.23,145.73Z" fill="#008000"/><path d="M544.97,135.54L546.79,137.52L544.97,139.50L543.16,137.52Z" fill="#008000"/><path d="M547.90,126.22L549.72,128.20L547.90,130.18L546.08,128.20Z" fill="#008000"/><path d="M550.83,116.12L552.64,118.10L550.83,120.08L549.01,118.10Z" fill="#008000"/><path d="M553.76,105.67L555.57,107.65L553.76,109.63L551.94,107.65Z" fill="#008000"/><path d="M556.68,95.33L558.50,97.31L556.68,99.29L554.87,97.31Z" fill="#008000"/><path d="M559.61,85.51L561.43,87.49L559.61,89.47L557.80,87.49Z" fill="#008000"/><path d="M562.54,76.54L564.36,78.52L562.54,80.50L560.72,78.52Z" fill="#008000"/><path d="M565.47,68.57L567.28,70.55L565.47,72.53L563.65,70.55Z" fill="#008000"/><path d="M568.40,61.68L570.21,63.66L568.40,65.64L566.58,63.66Z" fill="#008000"/><path d="M571.32,55.81L573.14,57.79L571.32,59.77L569.51,57.79Z" fill="#008000"/><path d="M574.25,50.89L576.07,52.87L574.25,54.85L572.44,52.87Z" fill="#008000"/><path d="M577.18,46.81L579.00,48.79L577.18,50.77L575.36,48.79Z" fill="#008000"/><path d="M580.11,43.44L581.92,45.42L580.11,47.40L578.29,45.42Z" fill="#008000"/><path d="M583.04,40.69L584.85,42.67L583.04,44.65L581.22,42.67Z" fill="#008000"/><path d="M585.96,38.43L587.78,40.41L585.96,42.39L584.15,40.41Z" fill="#008000"/><path d="M588.89,36.59L590.71,38.57L588.89,40.55L587.08,38.57Z" fill="#008000"/><path d="M591.82,35.10L593.63,37.08L591.82,39.06L590.00,37.08Z" fill="#008000"/><path d="M594.75,33.89L596.56,35.87L594.75,37.85L592.93,35.87Z" fill="#008000"/><path d="M597.68,32.90L599.49,34.88L597.68,36.86L595.86,34.88Z" fill="#008000"/><path d="M600.60,32.11L602.42,34.09L600.60,36.07L598.79,34.09Z" fill="#008000"/><path d="M603.53,31.46L605.35,33.44L603.53,35.42L601.72,33.44Z" fill="#008000"/><polyline points="430.78,27.63 433.71,27.64 436.64,27.65 439.56,27.66 442.49,27.67 445.42,27.69 448.35,27.72 451.28,27.74 454.20,27.78 457.13,27.83 460.06,27.90 462.99,27.98 465.92,28.09 468.84,28.23 471.77,28.43 474.70,28.69 477.63,29.05 480.56,29.54 483.48,30.21 486.41,31.14 489.34,32.39 492.27,34.08 495.20,36.31 498.12,39.18 501.05,42.78 503.98,47.13 506.91,52.22 509.84,57.96 512.76,64.26 515.69,71.01 518.62,78.09 521.55,85.40 524.48,92.87 527.40,100.41 530.33,107.98 533.26,115.50 536.19,122.92 539.12,130.15 542.04,137.11 544.97,143.69 547.90,149.79 550.83,155.28 553.76,160.08 556.68,164.13 559.61,167.44 562.54,170.05 565.47,172.05 568.40,173.55 571.32,174.66 574.25,175.48 577.18,176.07 580.11,176.51 583.04,176.82 585.96,177.06 588.89,177.23 591.82,177.36 594.75,177.46 597.68,177.53 600.60,177.59 603.53,177.63" fill="none" stroke="#000080" stroke-width="0.5"/><path d="M428.74,27.63L432.14,25.76L432.14,29.50Z" fill="#000080"/><path d="M431.67,27.64L435.07,25.77L435.07,29.51Z" fill="#000080"/><path d="M434.60,27.65L438.00,25.78L438.00,29.52Z" fill="#000080"/><path d="M437.52,27.66L440.92,25.79L440.92,29.53Z" fill="#000080"/><path d="M440.45,27.67L443.85,25.80L443.85,29.54Z" fill="#000080"/><path d="M443.38,27.69L446.78,25.82L446.78,29.56Z" fill="#000080"/><path d="M446.31,27.72L449.71,25.85L449.71,29.59Z" fill="#000080"/><path d="M449.24,27.74L452.64,25.87L452.64,29.61Z" fill="#000080"/><path d="M452.16,27.78L455.56,25.91L455.56,29.65Z" fill="#000080"/><path d="M455.09,27.83L458.49,25.96L458.49,29.70Z" fill="#000080"/><path d="M458.02,27.90L461.42,26.03L461.42,29.77Z" fill="#000080"/><path d="M460.95,27.98L464.35,26.11L464.35,29.85Z" fill="#000080"/><path d="M463.88,28.09L467.28,26.22L467.28,29.96Z" fill="#000080"/><path d="M466.80,28.23L470.20,26.36L470.20,30.10Z" fill="#000080"/><path d="M469.73,28.43L473.13,26.56L473.13,30.30Z" fill="#000080"/><path d="M472.66,28.69L476.06,26.82L476.06,30.56Z" fill="#000080"/><path d="M475.59,29.05L478.99,27.18L478.99,30.92Z" fill="#000080"/><path d="M478.52,29.54L481.92,27.67L481.92,31.41Z" fill="#000080"/><path d="M481.44,30.21L484.84,28.34L484.84,32.08Z" fill="#000080"/><path d="M484.37,31.14L487.77,29.27L487.77,33.01Z" fill="#000080"/><path d="M487.30,32.39L490.70,30.52L490.70,34.26Z" fill="#000080"/><path d="M490.23,34.08L493.63,32.21L493.63,35.95Z" fill="#000080"/><path d="M493.16,36.31L496.56,34.44L496.56,38.18Z" fill="#000080"/><path d="M496.08,39.18L499.48,37.31L499.48,41.05Z" fill="#000080"/><path d="M499.01,42.78L502.41,40.91L502.41,44.65Z" fill="#000080"/><path d="M501.94,47.13L505.34,45.26L505.34,49.00Z" fill="#000080"/><path d="M504.87,52.22L508.27,50.35L508.27,54.09Z" fill="#000080"/><path d="M507.80,57.96L511.20,56.09L511.20,59.83Z" fill="#000080"/><path d="M510.72,64.26L514.12,62.39L514.12,66.13Z" fill="#000080"/><path d="M513.65,71.01L517.05,69.14L517.05,72.88Z" fill="#000080"/><path d="M516.58,78.09L519.98,76.22L519.98,79.96Z" fill="#000080"/><path d="M519.51,85.40L522.91,83.53L522.91,87.27Z" fill="#000080"/><path d="M522.44,92.87L525.84,91.00L525.84,94.74Z" fill="#000080"/><path d="M525.36,100.41L528.76,98.54L528.76,102.28Z" fill="#000080"/><path d="M528.29,107.98L531.69,106.11L531.69,109.85Z" fill="#000080"/><path d="M531.22,115.50L534.62,113.63L534.62,117.37Z" fill="#000080"/><path d="M534.15,122.92L537.55,121.05L537.55,124.79Z" fill="#000080"/><path d="M537.08,130.15L540.48,128.28L540.48,132.02Z" fill="#000080"/><path d="M540.00,137.11L543.40,135.24L543.40,138.98Z" fill="#000080"/><path d="M542.93,143.69L546.33,141.82L546.33,145.56Z" fill="#000080"/><path d="M545.86,149.79L549.26,147.92L549.26,151.66Z" fill="#000080"/><path d="M548.79,155.28L552.19,153.41L552.19,157.15Z" fill="#000080"/><path d="M551.72,160.08L555.12,158.21L555.12,161.95Z" fill="#000080"/><path d="M554.64,164.13L558.04,162.26L558.04,166.00Z" fill="#000080"/><path d="M557.57,167.44L560.97,165.57L560.97,169.31Z" fill="#000080"/><path d="M560.50,170.05L563.90,168.18L563.90,171.92Z" fill="#000080"/><path d="M563.43,172.05L566.83,170.18L566.83,173.92Z" fill="#000080"/><path d="M566.36,173.55L569.76,171.68L569.76,175.42Z" fill="#000080"/><path d="M569.28,174.66L572.68,172.79L572.68,176.53Z" fill="#000080"/><path d="M572.21,175.48L575.61,173.61L575.61,177.35Z" fill="#000080"/><path d="M575.14,176.07L578.54,174.20L578.54,177.94Z" fill="#000080"/><path d="M578.07,176.51L581.47,174.64L581.47,178.38Z" fill="#000080"/><path d="M581.00,176.82L584.40,174.95L584.40,178.69Z" fill="#000080"/><path d="M583.92,177.06L587.32,175.19L587.32,178.93Z" fill="#000080"/><path d="M586.85,177.23L590.25,175.36L590.25,179.10Z" fill="#000080"/><path d="M589.78,177.36L593.18,175.49L593.18,179.23Z" fill="#000080"/><path d="M592.71,177.46L596.11,175.59L596.11,179.33Z" fill="#000080"/><path d="M595.64,177.53L599.04,175.66L599.04,179.40Z" fill="#000080"/><path d="M598.56,177.59L601.96,175.72L601.96,179.46Z" fill="#000080"/><path d="M601.49,177.63L604.89,175.76L604.89,179.50Z" fill="#000080"/><polyline points="430.78,31.48 433.71,31.66 436.64,31.89 439.56,32.17 442.49,32.51 445.42,32.94 448.35,33.46 451.28,34.11 454.20,34.91 457.13,35.89 460.06,37.10 462.99,38.59 465.92,40.42 468.84,42.66 471.77,45.39 474.70,48.73 477.63,52.77 480.56,57.62 483.48,63.41 486.41,70.21 489.34,78.06 492.27,86.92 495.20,96.61 498.12,106.86 501.05,117.27 503.98,127.39 506.91,136.82 509.84,145.21 512.76,152.35 515.69,158.15 518.62,162.55 521.55,165.59 524.48,167.29 527.40,167.67 530.33,166.74 533.26,164.48 536.19,160.87 539.12,155.88 542.04,149.51 544.97,141.82 547.90,132.96 550.83,123.20 553.76,112.90 556.68,102.50 559.61,92.44 562.54,83.08 565.47,74.63 568.40,67.22 571.32,60.86 574.25,55.47 577.18,50.97 580.11,47.24 583.04,44.17 585.96,41.66 588.89,39.60 591.82,37.93 594.75,36.56 597.68,35.45 600.60,34.55 603.53,33.82" fill="none" stroke="#000080" stroke-width="0.5"/><path d="M428.74,31.48L432.14,29.61L432.14,33.35Z" fill="#000080"/><path d="M431.67,31.66L435.07,29.79L435.07,33.53Z" fill="#000080"/><path d="M434.60,31.89L438.00,30.02L438.00,33.76Z" fill="#000080"/><path d="M437.52,32.17L440.92,30.30L440.92,34.04Z" fill="#000080"/><path d="M440.45,32.51L443.85,30.64L443.85,34.38Z" fill="#000080"/><path d="M443.38,32.94L446.78,31.07L446.78,34.81Z" fill="#000080"/><path d="M446.31,33.46L449.71,31.59L449.71,35.33Z" fill="#000080"/><path d="M449.24,34.11L452.64,32.24L452.64,35.98Z" fill="#000080"/><path d="M452.16,34.91L455.56,33.04L455.56,36.78Z" fill="#000080"/><path d="M455.09,35.89L458.49,34.02L458.49,37.76Z" fill="#000080"/><path d="M458.02,37.10L461.42,35.23L461.42,38.97Z" fill="#000080"/><path d="M460.95,38.59L464.35,36.72L464.35,40.46Z" fill="#000080"/><path d="M463.88,40.42L467.28,38.55L467.28,42.29Z" fill="#000080"/><path d="M466.80,42.66L470.20,40.79L470.20,44.53Z" fill="#000080"/><path d="M469.73,45.39L473.13,43.52L473.13,47.26Z" fill="#000080"/><path d="M472.66,48.73L476.06,46.86L476.06,50.60Z" fill="#000080"/><path d="M475.59,52.77L478.99,50.90L478.99,54.64Z" fill="#000080"/><path d="M478.52,57.62L481.92,55.75L481.92,59.49Z" fill="#000080"/><path d="M481.44,63.41L484.84,61.54L484.84,65.28Z" fill="#000080"/><path d="M484.37,70.21L487.77,68.34L487.77,72.08Z" fill="#000080"/><path d="M487.30,78.06L490.70,76.19L490.70,79.93Z" fill="#000080"/><path d="M490.23,86.92L493.63,85.05L493.63,88.79Z" fill="#000080"/><path d="M493.16,96.61L496.56,94.74L496.56,98.48Z" fill="#000080"/><path d="M496.08,106.86L499.48,104.99L499.48,108.73Z" fill="#000080"/><path d="M499.01,117.27L502.41,115.40L502.41,119.14Z" fill="#000080"/><path d="M501.94,127.39L505.34,125.52L505.34,129.26Z" fill="#000080"/><path d="M504.87,136.82L508.27,134.95L508.27,138.69Z" fill="#000080"/><path d="M507.80,145.21L511.20,143.34L511.20,147.08Z" fill="#000080"/><path d="M510.72,152.35L514.12,150.48L514.12,154.22Z" fill="#000080"/><path d="M513.65,158.15L517.05,156.28L517.05,160.02Z" fill="#000080"/><path d="M516.58,162.55L519.98,160.68L519.98,164.42Z" fill="#000080"/><path d="M519.51,165.59L522.91,163.72L522.91,167.46Z" fill="#000080"/><path d="M522.44,167.29L525.84,165.42L525.84,169.16Z" fill="#000080"/><path d="M525.36,167.67L528.76,165.80L528.76,169.54Z" fill="#000080"/><path d="M528.29,166.74L531.69,164.87L531.69,168.61Z" fill="#000080"/><path d="M531.22,164.48L534.62,162.61L534.62,166.35Z" fill="#000080"/><path d="M534.15,160.87L537.55,159.00L537.55,162.74Z" fill="#000080"/><path d="M537.08,155.88L540.48,154.01L540.48,157.75Z" fill="#000080"/><path d="M540.00,149.51L543.40,147.64L543.40,151.38Z" fill="#000080"/><path d="M542.93,141.82L546.33,139.95L546.33,143.69Z" fill="#000080"/><path d="M545.86,132.96L549.26,131.09L549.26,134.83Z" fill="#000080"/><path d="M548.79,123.20L552.19,121.33L552.19,125.07Z" fill="#000080"/><path d="M551.72,112.90L555.12,111.03L555.12,114.77Z" fill="#000080"/><path d="M554.64,102.50L558.04,100.63L558.04,104.37Z" fill="#000080"/><path d="M557.57,92.44L560.97,90.57L560.97,94.31Z" fill="#000080"/><path d="M560.50,83.08L563.90,81.21L563.90,84.95Z" fill="#000080"/><path d="M563.43,74.63L566.83,72.76L566.83,76.50Z" fill="#000080"/><path d="M566.36,67.22L569.76,65.35L569.76,69.09Z" fill="#000080"/><path d="M569.28,60.86L572.68,58.99L572.68,62.73Z" fill="#000080"/><path d="M572.21,55.47L575.61,53.60L575.61,57.34Z" fill="#000080"/><path d="M575.14,50.97L578.54,49.10L578.54,52.84Z" fill="#000080"/><path d="M578.07,47.24L581.47,45.37L581.47,49.11Z" fill="#000080"/><path d="M581.00,44.17L584.40,42.30L584.40,46.04Z" fill="#000080"/><path d="M583.92,41.66L587.32,39.79L587.32,43.53Z" fill="#000080"/><path d="M586.85,39.60L590.25,37.73L590.25,41.47Z" fill="#000080"/><path d="M589.78,37.93L593.18,36.06L593.18,39.80Z" fill="#000080"/><path d="M592.71,36.56L596.11,34.69L596.11,38.43Z" fill="#000080"/><path d="M595.64,35.45L599.04,33.58L599.04,37.32Z" fill="#000080"/><path d="M598.56,34.55L601.96,32.68L601.96,36.42Z" fill="#000080"/><path d="M601.49,33.82L604.89,31.95L604.89,35.69Z" fill="#000080"/></g>
<rect x="556.7" y="15.9" width="73.5" height="71.3" fill="#000"/>
<rect x="553.7" y="12.9" width="73.5" height="71.3" fill="#fff" stroke="#888" stroke-width="0.8"/>
<line x1="555.2" x2="572.7" y1="18.50" y2="18.50" stroke="#000000" stroke-width="0.4"/>
<rect x="562.51" y="17.02" width="2.97" height="2.97" fill="#000000"/>
<text x="597.0" y="21.20" text-anchor="end" class="lg">Blank</text>
<line x1="555.2" x2="572.7" y1="28.50" y2="28.50" stroke="#ff0000" stroke-width="0.4"/>
<circle cx="564.00" cy="28.33" r="1.65" fill="#ff0000"/>
<text x="596.2" y="31.03" text-anchor="end" class="lg">5 μM</text>
<line x1="555.2" x2="572.7" y1="38.50" y2="38.50" stroke="#0000ff" stroke-width="0.4"/>
<path d="M564.00,35.92L566.06,39.66L561.94,39.66Z" fill="#0000ff"/>
<text x="596.2" y="40.86" text-anchor="end" class="lg">9 μM</text>
<line x1="555.2" x2="572.7" y1="47.50" y2="47.50" stroke="#ff00ff" stroke-width="0.4"/>
<path d="M564.00,50.23L566.06,46.49L561.94,46.49Z" fill="#ff00ff"/>
<text x="596.2" y="50.69" text-anchor="end" class="lg">13 μM</text>
<line x1="555.2" x2="572.7" y1="57.50" y2="57.50" stroke="#008000" stroke-width="0.4"/>
<path d="M564.00,55.64L566.00,57.82L564.00,60.00L562.00,57.82Z" fill="#008000"/>
<text x="596.2" y="60.52" text-anchor="end" class="lg">17 μM</text>
<line x1="555.2" x2="572.7" y1="67.50" y2="67.50" stroke="#000080" stroke-width="0.4"/>
<path d="M561.76,67.65L565.50,65.59L565.50,69.71Z" fill="#000080"/>
<text x="596.2" y="70.35" text-anchor="end" class="lg">21 μM</text>
<line x1="555.2" x2="572.7" y1="77.50" y2="77.50" stroke="#000" stroke-width="0.5"/>
<text x="573.1" y="80.18" class="lg">Fitting Curves</text>
<path d="M401.3,10.4V195.2H635.0V10.4" fill="none" stroke="#000" stroke-width="2.0"/>
<path d="M401.3,195.32h-1.8M401.3,188.27h-1.8M401.3,182.30h-1.8M401.3,177.13h-1.8M401.3,172.58h-1.8M401.3,168.50h-3.2M401.3,141.68h-1.8M401.3,125.99h-1.8M401.3,114.86h-1.8M401.3,106.22h-1.8M401.3,99.17h-1.8M401.3,93.20h-1.8M401.3,88.03h-1.8M401.3,83.48h-1.8M401.3,79.40h-3.2M401.3,52.58h-1.8M401.3,36.89h-1.8M401.3,25.76h-1.8M401.3,17.12h-1.8M401.3,10.07h-1.8M401.20,195.2v3.2M410.01,195.2v1.8M415.17,195.2v1.8M418.83,195.2v1.8M421.67,195.2v1.8M423.98,195.2v1.8M425.94,195.2v1.8M427.64,195.2v1.8M429.14,195.2v1.8M430.48,195.2v3.2M439.29,195.2v1.8M444.45,195.2v1.8M448.11,195.2v1.8M450.95,195.2v1.8M453.26,195.2v1.8M455.22,195.2v1.8M456.92,195.2v1.8M458.42,195.2v1.8M459.76,195.2v3.2M468.57,195.2v1.8M473.73,195.2v1.8M477.39,195.2v1.8M480.23,195.2v1.8M482.54,195.2v1.8M484.50,195.2v1.8M486.20,195.2v1.8M487.70,195.2v1.8M489.04,195.2v3.2M497.85,195.2v1.8M503.01,195.2v1.8M506.67,195.2v1.8M509.51,195.2v1.8M511.82,195.2v1.8M513.78,195.2v1.8M515.48,195.2v1.8M516.98,195.2v1.8M518.32,195.2v3.2M527.13,195.2v1.8M532.29,195.2v1.8M535.95,195.2v1.8M538.79,195.2v1.8M541.10,195.2v1.8M543.06,195.2v1.8M544.76,195.2v1.8M546.26,195.2v1.8M547.60,195.2v3.2M556.41,195.2v1.8M561.57,195.2v1.8M565.23,195.2v1.8M568.07,195.2v1.8M570.38,195.2v1.8M572.34,195.2v1.8M574.04,195.2v1.8M575.54,195.2v1.8M576.88,195.2v3.2M585.69,195.2v1.8M590.85,195.2v1.8M594.51,195.2v1.8M597.35,195.2v1.8M599.66,195.2v1.8M601.62,195.2v1.8M603.32,195.2v1.8M604.82,195.2v1.8M606.16,195.2v3.2M614.97,195.2v1.8M620.13,195.2v1.8M623.79,195.2v1.8M626.63,195.2v1.8M628.94,195.2v1.8M630.90,195.2v1.8M632.60,195.2v1.8M634.10,195.2v1.8M635.44,195.2v3.2M635.0,10.15h-2M635.0,30.70h-3.5M635.0,51.25h-2M635.0,71.80h-3.5M635.0,92.35h-2M635.0,112.90h-3.5M635.0,133.45h-2M635.0,154.00h-3.5M635.0,174.55h-2M635.0,195.10h-3.5" stroke="#000" stroke-width="1.4" fill="none"/>
<text x="395.0" y="82.80" text-anchor="end" class="tl">100</text>
<text x="395.0" y="171.90" text-anchor="end" class="tl">10</text>
<text x="401.20" y="208.10" text-anchor="middle" class="tx">0.01</text>
<text x="430.48" y="208.10" text-anchor="middle" class="tx">0.1</text>
<text x="459.76" y="208.10" text-anchor="middle" class="tx">1</text>
<text x="489.04" y="208.10" text-anchor="middle" class="tx">10</text>
<text x="518.32" y="208.10" text-anchor="middle" class="tx">100</text>
<text x="547.60" y="208.10" text-anchor="middle" class="tx">1000</text>
<text x="576.88" y="208.10" text-anchor="middle" class="tx">10000</text>
<text x="606.16" y="208.10" text-anchor="middle" class="tx">100000</text>
<text x="635.44" y="208.10" text-anchor="middle" class="tx">1000000</text>
<text x="639.6" y="34.00" class="tr">0</text>
<text x="639.6" y="75.10" class="tr">-20</text>
<text x="639.6" y="116.20" class="tr">-40</text>
<text x="639.6" y="157.30" class="tr">-60</text>
<text x="639.6" y="198.40" class="tr">-80</text>
<text x="518.2" y="223.5" text-anchor="middle" class="tf">log F, Hz</text>
<text transform="translate(370.3,168.8) rotate(-90)" class="ti"><tspan x="-0.3">log</tspan><tspan x="21.2" font-size="15.5">Z</tspan><tspan x="30.0" dy="1">mod,</tspan><tspan x="66.9" dy="-1">ohm</tspan><tspan x="100.2">cm</tspan><tspan x="117.6" dy="-6" font-size="13">-2</tspan></text>
<text transform="translate(668.5,103.2) rotate(-90)" text-anchor="middle" class="tz">Zph, deg</text>
<path d="M0.5,0V264M684.5,0V264M0,0.5H685" stroke="#1e1e1e" stroke-width="1.05" fill="none"/>
<path d="M345.1,0V264" stroke="#222" stroke-width="1.0" fill="none"/>
<path d="M0,245.5H685" stroke="#333" stroke-width="1.0" fill="none"/>
<text x="172.5" y="261" text-anchor="middle" class="nc">NCD1</text>
<text x="514.5" y="261" text-anchor="middle" class="nc">NCD2</text>
</svg>
</body></html>
